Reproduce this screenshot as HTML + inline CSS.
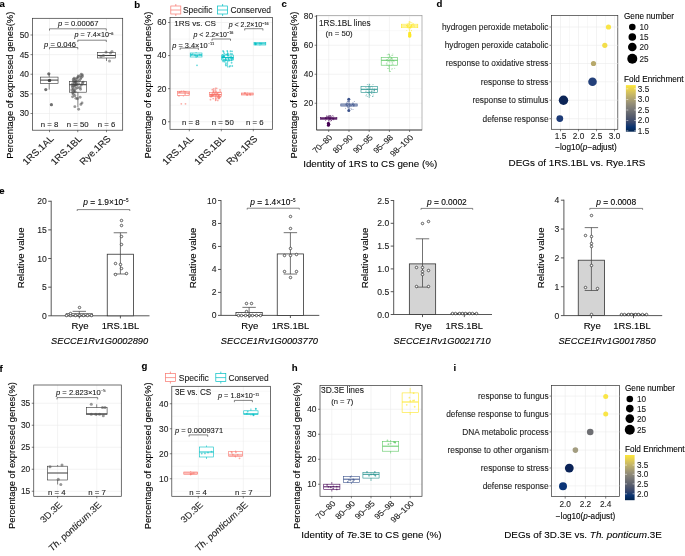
<!DOCTYPE html>
<html><head><meta charset="utf-8"><style>
html,body{margin:0;padding:0;background:#fff;}
svg{display:block;font-family:"Liberation Sans", sans-serif;will-change:transform;}
</style></head><body>
<svg width="685" height="556" viewBox="0 0 685 556">
<rect width="685" height="556" fill="#fff"/>
<text x="-0.5" y="7.2" font-size="9.6" text-anchor="start" fill="#000" stroke="#000" stroke-width="0.1" font-weight="bold">a</text>
<line x1="32.5" y1="35" x2="122.7" y2="35" stroke="#ebebeb" stroke-width="0.6"/>
<line x1="32.5" y1="54.62" x2="122.7" y2="54.62" stroke="#ebebeb" stroke-width="0.6"/>
<line x1="32.5" y1="74.25" x2="122.7" y2="74.25" stroke="#ebebeb" stroke-width="0.6"/>
<line x1="32.5" y1="93.88" x2="122.7" y2="93.88" stroke="#ebebeb" stroke-width="0.6"/>
<line x1="32.5" y1="113.5" x2="122.7" y2="113.5" stroke="#ebebeb" stroke-width="0.6"/>
<line x1="49.5" y1="18.3" x2="49.5" y2="130.2" stroke="#ebebeb" stroke-width="0.6"/>
<line x1="77.75" y1="18.3" x2="77.75" y2="130.2" stroke="#ebebeb" stroke-width="0.6"/>
<line x1="106.5" y1="18.3" x2="106.5" y2="130.2" stroke="#ebebeb" stroke-width="0.6"/>
<rect x="32.5" y="18.3" width="90.2" height="111.9" fill="none" stroke="#333333" stroke-width="0.7"/>
<line x1="30.5" y1="35" x2="32.5" y2="35" stroke="#333" stroke-width="0.6"/>
<text x="29" y="37.9" font-size="8.4" text-anchor="end" fill="#222" stroke="#222" stroke-width="0.1">50</text>
<line x1="30.5" y1="54.62" x2="32.5" y2="54.62" stroke="#333" stroke-width="0.6"/>
<text x="29" y="57.52" font-size="8.4" text-anchor="end" fill="#222" stroke="#222" stroke-width="0.1">45</text>
<line x1="30.5" y1="74.25" x2="32.5" y2="74.25" stroke="#333" stroke-width="0.6"/>
<text x="29" y="77.15" font-size="8.4" text-anchor="end" fill="#222" stroke="#222" stroke-width="0.1">40</text>
<line x1="30.5" y1="93.88" x2="32.5" y2="93.88" stroke="#333" stroke-width="0.6"/>
<text x="29" y="96.78" font-size="8.4" text-anchor="end" fill="#222" stroke="#222" stroke-width="0.1">35</text>
<line x1="30.5" y1="113.5" x2="32.5" y2="113.5" stroke="#333" stroke-width="0.6"/>
<text x="29" y="116.4" font-size="8.4" text-anchor="end" fill="#222" stroke="#222" stroke-width="0.1">30</text>
<line x1="49.5" y1="130.2" x2="49.5" y2="132.2" stroke="#333" stroke-width="0.6"/>
<line x1="77.75" y1="130.2" x2="77.75" y2="132.2" stroke="#333" stroke-width="0.6"/>
<line x1="106.5" y1="130.2" x2="106.5" y2="132.2" stroke="#333" stroke-width="0.6"/>
<text x="13" y="85.2" font-size="9.4" text-anchor="middle" fill="#000" stroke="#000" stroke-width="0.1" transform="rotate(-90 13 85.2)">Percentage of expressed genes(%)</text>
<line x1="49.2" y1="74.3" x2="49.2" y2="77.1" stroke="#333" stroke-width="0.6"/>
<line x1="49.2" y1="83.4" x2="49.2" y2="89.6" stroke="#333" stroke-width="0.6"/>
<rect x="40.35" y="77.1" width="17.7" height="6.3" fill="none" stroke="#333" stroke-width="0.6"/>
<line x1="40.35" y1="80.1" x2="58.05" y2="80.1" stroke="#333" stroke-width="0.96"/>
<line x1="77.9" y1="74.5" x2="77.9" y2="81.3" stroke="#333" stroke-width="0.6"/>
<line x1="77.9" y1="92.2" x2="77.9" y2="107.3" stroke="#333" stroke-width="0.6"/>
<rect x="69.35" y="81.3" width="17.1" height="10.9" fill="none" stroke="#333" stroke-width="0.6"/>
<line x1="69.35" y1="84.7" x2="86.45" y2="84.7" stroke="#333" stroke-width="0.96"/>
<line x1="106.5" y1="51.5" x2="106.5" y2="52.5" stroke="#333" stroke-width="0.6"/>
<line x1="106.5" y1="58" x2="106.5" y2="61" stroke="#333" stroke-width="0.6"/>
<rect x="97.5" y="52.5" width="18" height="5.5" fill="none" stroke="#333" stroke-width="0.6"/>
<line x1="97.5" y1="55.5" x2="115.5" y2="55.5" stroke="#333" stroke-width="0.96"/>
<circle cx="48.8" cy="73.8" r="1.6" fill="#333" stroke="none" stroke-width="0.5" fill-opacity="0.7"/>
<circle cx="49.7" cy="80.4" r="1.6" fill="#333" stroke="none" stroke-width="0.5" fill-opacity="0.7"/>
<circle cx="45.8" cy="89.6" r="1.6" fill="#333" stroke="none" stroke-width="0.5" fill-opacity="0.7"/>
<circle cx="51.4" cy="104.7" r="1.6" fill="#333" stroke="none" stroke-width="0.5" fill-opacity="0.7"/>
<circle cx="49.3" cy="80.6" r="1.6" fill="#333" stroke="none" stroke-width="0.5" fill-opacity="0.7"/>
<circle cx="81.25" cy="74.16" r="1.45" fill="#444" stroke="none" stroke-width="0.5" fill-opacity="0.55"/>
<circle cx="82.38" cy="74.91" r="1.45" fill="#444" stroke="none" stroke-width="0.5" fill-opacity="0.55"/>
<circle cx="79.74" cy="76.05" r="1.45" fill="#444" stroke="none" stroke-width="0.5" fill-opacity="0.55"/>
<circle cx="81.25" cy="77.56" r="1.45" fill="#444" stroke="none" stroke-width="0.5" fill-opacity="0.55"/>
<circle cx="78.23" cy="76.8" r="1.45" fill="#444" stroke="none" stroke-width="0.5" fill-opacity="0.55"/>
<circle cx="77.09" cy="77.94" r="1.45" fill="#444" stroke="none" stroke-width="0.5" fill-opacity="0.55"/>
<circle cx="74.07" cy="78.31" r="1.45" fill="#444" stroke="none" stroke-width="0.5" fill-opacity="0.55"/>
<circle cx="73.31" cy="79.45" r="1.45" fill="#444" stroke="none" stroke-width="0.5" fill-opacity="0.55"/>
<circle cx="75.58" cy="80.58" r="1.45" fill="#444" stroke="none" stroke-width="0.5" fill-opacity="0.55"/>
<circle cx="74.83" cy="82.09" r="1.45" fill="#444" stroke="none" stroke-width="0.5" fill-opacity="0.55"/>
<circle cx="76.34" cy="81.34" r="1.45" fill="#444" stroke="none" stroke-width="0.5" fill-opacity="0.55"/>
<circle cx="74.07" cy="82.85" r="1.45" fill="#444" stroke="none" stroke-width="0.5" fill-opacity="0.55"/>
<circle cx="72.56" cy="83.98" r="1.45" fill="#444" stroke="none" stroke-width="0.5" fill-opacity="0.55"/>
<circle cx="76.34" cy="83.98" r="1.45" fill="#444" stroke="none" stroke-width="0.5" fill-opacity="0.55"/>
<circle cx="78.61" cy="83.61" r="1.45" fill="#444" stroke="none" stroke-width="0.5" fill-opacity="0.55"/>
<circle cx="82.38" cy="83.23" r="1.45" fill="#444" stroke="none" stroke-width="0.5" fill-opacity="0.55"/>
<circle cx="74.07" cy="85.5" r="1.45" fill="#444" stroke="none" stroke-width="0.5" fill-opacity="0.55"/>
<circle cx="74.83" cy="86.25" r="1.45" fill="#444" stroke="none" stroke-width="0.5" fill-opacity="0.55"/>
<circle cx="72.56" cy="87.38" r="1.45" fill="#444" stroke="none" stroke-width="0.5" fill-opacity="0.55"/>
<circle cx="73.31" cy="88.9" r="1.45" fill="#444" stroke="none" stroke-width="0.5" fill-opacity="0.55"/>
<circle cx="75.96" cy="88.52" r="1.45" fill="#444" stroke="none" stroke-width="0.5" fill-opacity="0.55"/>
<circle cx="80.5" cy="89.27" r="1.45" fill="#444" stroke="none" stroke-width="0.5" fill-opacity="0.55"/>
<circle cx="74.45" cy="90.41" r="1.45" fill="#444" stroke="none" stroke-width="0.5" fill-opacity="0.55"/>
<circle cx="72.56" cy="92.68" r="1.45" fill="#444" stroke="none" stroke-width="0.5" fill-opacity="0.55"/>
<circle cx="73.31" cy="94.19" r="1.45" fill="#444" stroke="none" stroke-width="0.5" fill-opacity="0.55"/>
<circle cx="74.83" cy="95.7" r="1.45" fill="#444" stroke="none" stroke-width="0.5" fill-opacity="0.55"/>
<circle cx="72.56" cy="96.83" r="1.45" fill="#444" stroke="none" stroke-width="0.5" fill-opacity="0.55"/>
<circle cx="75.96" cy="98.34" r="1.45" fill="#444" stroke="none" stroke-width="0.5" fill-opacity="0.55"/>
<circle cx="80.12" cy="97.21" r="1.45" fill="#444" stroke="none" stroke-width="0.5" fill-opacity="0.55"/>
<circle cx="82.01" cy="102.88" r="1.45" fill="#444" stroke="none" stroke-width="0.5" fill-opacity="0.55"/>
<circle cx="80.87" cy="104.39" r="1.45" fill="#444" stroke="none" stroke-width="0.5" fill-opacity="0.55"/>
<circle cx="74.83" cy="106.66" r="1.45" fill="#444" stroke="none" stroke-width="0.5" fill-opacity="0.55"/>
<circle cx="78.61" cy="109.3" r="1.45" fill="#444" stroke="none" stroke-width="0.5" fill-opacity="0.55"/>
<circle cx="77.47" cy="98.72" r="1.45" fill="#444" stroke="none" stroke-width="0.5" fill-opacity="0.55"/>
<circle cx="75.2" cy="91.92" r="1.45" fill="#444" stroke="none" stroke-width="0.5" fill-opacity="0.55"/>
<circle cx="77.85" cy="87.76" r="1.45" fill="#444" stroke="none" stroke-width="0.5" fill-opacity="0.55"/>
<circle cx="82.38" cy="76.42" r="1.45" fill="#444" stroke="none" stroke-width="0.5" fill-opacity="0.55"/>
<circle cx="80.5" cy="79.07" r="1.45" fill="#444" stroke="none" stroke-width="0.5" fill-opacity="0.55"/>
<circle cx="83.14" cy="82.09" r="1.45" fill="#444" stroke="none" stroke-width="0.5" fill-opacity="0.55"/>
<circle cx="75.96" cy="82.47" r="1.45" fill="#444" stroke="none" stroke-width="0.5" fill-opacity="0.55"/>
<circle cx="77.09" cy="85.12" r="1.45" fill="#444" stroke="none" stroke-width="0.5" fill-opacity="0.55"/>
<circle cx="73.31" cy="80.96" r="1.45" fill="#444" stroke="none" stroke-width="0.5" fill-opacity="0.55"/>
<circle cx="79.36" cy="80.58" r="1.45" fill="#444" stroke="none" stroke-width="0.5" fill-opacity="0.55"/>
<circle cx="75.58" cy="84.74" r="1.45" fill="#444" stroke="none" stroke-width="0.5" fill-opacity="0.55"/>
<circle cx="72.18" cy="85.87" r="1.45" fill="#444" stroke="none" stroke-width="0.5" fill-opacity="0.55"/>
<circle cx="73.69" cy="91.16" r="1.45" fill="#444" stroke="none" stroke-width="0.5" fill-opacity="0.55"/>
<circle cx="71.8" cy="90.03" r="1.45" fill="#444" stroke="none" stroke-width="0.5" fill-opacity="0.55"/>
<circle cx="80.12" cy="87.38" r="1.45" fill="#444" stroke="none" stroke-width="0.5" fill-opacity="0.55"/>
<circle cx="81.25" cy="85.12" r="1.45" fill="#444" stroke="none" stroke-width="0.5" fill-opacity="0.55"/>
<circle cx="75.58" cy="79.07" r="1.45" fill="#444" stroke="none" stroke-width="0.5" fill-opacity="0.55"/>
<circle cx="106" cy="52" r="1.5" fill="#555" stroke="none" stroke-width="0.5" fill-opacity="0.55"/>
<circle cx="112" cy="51.5" r="1.5" fill="#555" stroke="none" stroke-width="0.5" fill-opacity="0.55"/>
<circle cx="101" cy="56.5" r="1.5" fill="#555" stroke="none" stroke-width="0.5" fill-opacity="0.55"/>
<circle cx="109.5" cy="61" r="1.5" fill="#555" stroke="none" stroke-width="0.5" fill-opacity="0.55"/>
<circle cx="110.5" cy="53" r="1.5" fill="#555" stroke="none" stroke-width="0.5" fill-opacity="0.55"/>
<circle cx="103.5" cy="55.5" r="1.5" fill="#555" stroke="none" stroke-width="0.5" fill-opacity="0.55"/>
<text x="49.5" y="126.8" font-size="7.8" text-anchor="middle" fill="#1a1a1a" stroke="#1a1a1a" stroke-width="0.1">n = 8</text>
<text x="77.75" y="126.8" font-size="7.8" text-anchor="middle" fill="#1a1a1a" stroke="#1a1a1a" stroke-width="0.1">n = 50</text>
<text x="106.5" y="126.8" font-size="7.8" text-anchor="middle" fill="#1a1a1a" stroke="#1a1a1a" stroke-width="0.1">n = 6</text>
<path d="M49.5 30.6V28.8H106.3V30.6" fill="none" stroke="#333" stroke-width="0.6"/>
<text x="58.1" y="26.1" font-size="7.6" text-anchor="start" fill="#1a1a1a" stroke="#1a1a1a" stroke-width="0.1"><tspan font-style="italic">p</tspan> = 0.00067</text>
<path d="M77.8 42V40.2H106.3V42" fill="none" stroke="#333" stroke-width="0.6"/>
<text x="74.5" y="37.4" font-size="7.2" text-anchor="start" fill="#1a1a1a" stroke="#1a1a1a" stroke-width="0.1"><tspan font-style="italic">p</tspan> = 7.4×10<tspan style="font-size:54%" dy="-0.72em">−6</tspan></text>
<path d="M49.5 49.3V47.5H77.8V49.3" fill="none" stroke="#333" stroke-width="0.6"/>
<text x="44.1" y="46.8" font-size="7.6" text-anchor="start" fill="#1a1a1a" stroke="#1a1a1a" stroke-width="0.1"><tspan font-style="italic">p</tspan> = 0.046</text>
<text x="0" y="0" font-size="9.17" text-anchor="end" fill="#222" stroke="#222" stroke-width="0.1" transform="translate(49.4 134.8) scale(1.08 1) rotate(-45) translate(0 6.6)">1RS.1AL</text>
<text x="0" y="0" font-size="9.17" text-anchor="end" fill="#222" stroke="#222" stroke-width="0.1" transform="translate(77.65 134.8) scale(1.08 1) rotate(-45) translate(0 6.6)">1RS.1BL</text>
<text x="0" y="0" font-size="9.17" text-anchor="end" fill="#222" stroke="#222" stroke-width="0.1" transform="translate(106.4 134.8) scale(1.08 1) rotate(-45) translate(0 6.6)">Rye.1RS</text>
<text x="134.2" y="7.5" font-size="9.6" text-anchor="start" fill="#000" stroke="#000" stroke-width="0.1" font-weight="bold">b</text>
<line x1="170" y1="105.21" x2="272.5" y2="105.21" stroke="#f0f0f0" stroke-width="0.45"/>
<line x1="170" y1="72.13" x2="272.5" y2="72.13" stroke="#f0f0f0" stroke-width="0.45"/>
<line x1="170" y1="39.05" x2="272.5" y2="39.05" stroke="#f0f0f0" stroke-width="0.45"/>
<line x1="170" y1="22.51" x2="272.5" y2="22.51" stroke="#ebebeb" stroke-width="0.6"/>
<line x1="170" y1="55.59" x2="272.5" y2="55.59" stroke="#ebebeb" stroke-width="0.6"/>
<line x1="170" y1="88.67" x2="272.5" y2="88.67" stroke="#ebebeb" stroke-width="0.6"/>
<line x1="170" y1="121.75" x2="272.5" y2="121.75" stroke="#ebebeb" stroke-width="0.6"/>
<line x1="189.3" y1="17.5" x2="189.3" y2="129.3" stroke="#ebebeb" stroke-width="0.6"/>
<line x1="221.3" y1="17.5" x2="221.3" y2="129.3" stroke="#ebebeb" stroke-width="0.6"/>
<line x1="253.3" y1="17.5" x2="253.3" y2="129.3" stroke="#ebebeb" stroke-width="0.6"/>
<rect x="170" y="17.5" width="102.5" height="111.8" fill="none" stroke="#333333" stroke-width="0.7"/>
<line x1="168" y1="22.51" x2="170" y2="22.51" stroke="#333" stroke-width="0.6"/>
<text x="166.5" y="25.41" font-size="8.4" text-anchor="end" fill="#222" stroke="#222" stroke-width="0.1">60</text>
<line x1="168" y1="55.59" x2="170" y2="55.59" stroke="#333" stroke-width="0.6"/>
<text x="166.5" y="58.49" font-size="8.4" text-anchor="end" fill="#222" stroke="#222" stroke-width="0.1">40</text>
<line x1="168" y1="88.67" x2="170" y2="88.67" stroke="#333" stroke-width="0.6"/>
<text x="166.5" y="91.57" font-size="8.4" text-anchor="end" fill="#222" stroke="#222" stroke-width="0.1">20</text>
<line x1="168" y1="121.75" x2="170" y2="121.75" stroke="#333" stroke-width="0.6"/>
<text x="166.5" y="124.65" font-size="8.4" text-anchor="end" fill="#222" stroke="#222" stroke-width="0.1">0</text>
<line x1="189.3" y1="129.3" x2="189.3" y2="131.3" stroke="#333" stroke-width="0.6"/>
<line x1="221.3" y1="129.3" x2="221.3" y2="131.3" stroke="#333" stroke-width="0.6"/>
<line x1="253.3" y1="129.3" x2="253.3" y2="131.3" stroke="#333" stroke-width="0.6"/>
<text x="151" y="85" font-size="9.4" text-anchor="middle" fill="#000" stroke="#000" stroke-width="0.1" transform="rotate(-90 151 85)">Percentage of expressed genes(%)</text>
<rect x="170.8" y="6" width="10" height="8" fill="none" stroke="#F8766D" stroke-width="0.7"/>
<line x1="170.8" y1="10" x2="180.8" y2="10" stroke="#F8766D" stroke-width="0.7"/>
<line x1="175.8" y1="4" x2="175.8" y2="6" stroke="#F8766D" stroke-width="0.7"/>
<line x1="175.8" y1="14" x2="175.8" y2="16" stroke="#F8766D" stroke-width="0.7"/>
<text x="183" y="12.9" font-size="8.4" text-anchor="start" fill="#1a1a1a" stroke="#1a1a1a" stroke-width="0.1">Specific</text>
<rect x="217.6" y="6" width="10" height="8" fill="none" stroke="#00BFC4" stroke-width="0.7"/>
<line x1="217.6" y1="10" x2="227.6" y2="10" stroke="#00BFC4" stroke-width="0.7"/>
<line x1="222.6" y1="4" x2="222.6" y2="6" stroke="#00BFC4" stroke-width="0.7"/>
<line x1="222.6" y1="14" x2="222.6" y2="16" stroke="#00BFC4" stroke-width="0.7"/>
<text x="230.5" y="12.9" font-size="8.4" text-anchor="start" fill="#1a1a1a" stroke="#1a1a1a" stroke-width="0.1">Conserved</text>
<text x="174.2" y="25.9" font-size="8.1" text-anchor="start" fill="#1a1a1a" stroke="#1a1a1a" stroke-width="0.1">1RS vs. CS</text>
<line x1="183.4" y1="90.5" x2="183.4" y2="91.25" stroke="#F8766D" stroke-width="0.6"/>
<line x1="183.4" y1="95.5" x2="183.4" y2="96.5" stroke="#F8766D" stroke-width="0.6"/>
<rect x="177.5" y="91.25" width="11.8" height="4.25" fill="none" stroke="#F8766D" stroke-width="0.6"/>
<line x1="177.5" y1="93" x2="189.3" y2="93" stroke="#F8766D" stroke-width="0.96"/>
<circle cx="178.97" cy="95.81" r="0.9" fill="#F8766D" stroke="none" stroke-width="0.5" fill-opacity="0.6"/>
<circle cx="179.25" cy="92.2" r="0.9" fill="#F8766D" stroke="none" stroke-width="0.5" fill-opacity="0.6"/>
<circle cx="185.1" cy="94" r="0.9" fill="#F8766D" stroke="none" stroke-width="0.5" fill-opacity="0.6"/>
<circle cx="181.48" cy="91.32" r="0.9" fill="#F8766D" stroke="none" stroke-width="0.5" fill-opacity="0.6"/>
<circle cx="184.21" cy="91.71" r="0.9" fill="#F8766D" stroke="none" stroke-width="0.5" fill-opacity="0.6"/>
<circle cx="179.98" cy="91.99" r="0.9" fill="#F8766D" stroke="none" stroke-width="0.5" fill-opacity="0.6"/>
<circle cx="185.63" cy="91.91" r="0.9" fill="#F8766D" stroke="none" stroke-width="0.5" fill-opacity="0.6"/>
<circle cx="188.35" cy="93.51" r="0.9" fill="#F8766D" stroke="none" stroke-width="0.5" fill-opacity="0.6"/>
<circle cx="181.3" cy="103.8" r="0.9" fill="#F8766D" stroke="none" stroke-width="0.5" fill-opacity="0.6"/>
<circle cx="185.5" cy="103.8" r="0.9" fill="#F8766D" stroke="none" stroke-width="0.5" fill-opacity="0.6"/>
<line x1="196.1" y1="52" x2="196.1" y2="53" stroke="#00BFC4" stroke-width="0.6"/>
<line x1="196.1" y1="57" x2="196.1" y2="58" stroke="#00BFC4" stroke-width="0.6"/>
<rect x="190.2" y="53" width="11.8" height="4" fill="none" stroke="#00BFC4" stroke-width="0.6"/>
<line x1="190.2" y1="55" x2="202" y2="55" stroke="#00BFC4" stroke-width="0.96"/>
<circle cx="194.8" cy="55.09" r="0.9" fill="#00BFC4" stroke="none" stroke-width="0.5" fill-opacity="0.6"/>
<circle cx="197.14" cy="56.25" r="0.9" fill="#00BFC4" stroke="none" stroke-width="0.5" fill-opacity="0.6"/>
<circle cx="191.23" cy="54.74" r="0.9" fill="#00BFC4" stroke="none" stroke-width="0.5" fill-opacity="0.6"/>
<circle cx="199.47" cy="54.74" r="0.9" fill="#00BFC4" stroke="none" stroke-width="0.5" fill-opacity="0.6"/>
<circle cx="201.06" cy="54.96" r="0.9" fill="#00BFC4" stroke="none" stroke-width="0.5" fill-opacity="0.6"/>
<circle cx="195.8" cy="55.73" r="0.9" fill="#00BFC4" stroke="none" stroke-width="0.5" fill-opacity="0.6"/>
<circle cx="197.49" cy="55.59" r="0.9" fill="#00BFC4" stroke="none" stroke-width="0.5" fill-opacity="0.6"/>
<circle cx="192.61" cy="54.03" r="0.9" fill="#00BFC4" stroke="none" stroke-width="0.5" fill-opacity="0.6"/>
<circle cx="197" cy="65.3" r="0.9" fill="#00BFC4" stroke="none" stroke-width="0.5" fill-opacity="0.6"/>
<line x1="215.4" y1="87.5" x2="215.4" y2="92.5" stroke="#F8766D" stroke-width="0.6"/>
<line x1="215.4" y1="96.3" x2="215.4" y2="101.2" stroke="#F8766D" stroke-width="0.6"/>
<rect x="209.5" y="92.5" width="11.8" height="3.8" fill="none" stroke="#F8766D" stroke-width="0.6"/>
<line x1="209.5" y1="94.5" x2="221.3" y2="94.5" stroke="#F8766D" stroke-width="0.96"/>
<circle cx="214.36" cy="94.62" r="0.9" fill="#F8766D" stroke="none" stroke-width="0.5" fill-opacity="0.6"/>
<circle cx="211.95" cy="95.89" r="0.9" fill="#F8766D" stroke="none" stroke-width="0.5" fill-opacity="0.6"/>
<circle cx="219.58" cy="97.28" r="0.9" fill="#F8766D" stroke="none" stroke-width="0.5" fill-opacity="0.6"/>
<circle cx="218.4" cy="95.73" r="0.9" fill="#F8766D" stroke="none" stroke-width="0.5" fill-opacity="0.6"/>
<circle cx="215.77" cy="94.7" r="0.9" fill="#F8766D" stroke="none" stroke-width="0.5" fill-opacity="0.6"/>
<circle cx="213.17" cy="92.38" r="0.9" fill="#F8766D" stroke="none" stroke-width="0.5" fill-opacity="0.6"/>
<circle cx="212.54" cy="95.16" r="0.9" fill="#F8766D" stroke="none" stroke-width="0.5" fill-opacity="0.6"/>
<circle cx="219.67" cy="95.76" r="0.9" fill="#F8766D" stroke="none" stroke-width="0.5" fill-opacity="0.6"/>
<circle cx="218.4" cy="97.09" r="0.9" fill="#F8766D" stroke="none" stroke-width="0.5" fill-opacity="0.6"/>
<circle cx="212.33" cy="89.72" r="0.9" fill="#F8766D" stroke="none" stroke-width="0.5" fill-opacity="0.6"/>
<circle cx="217.72" cy="92.95" r="0.9" fill="#F8766D" stroke="none" stroke-width="0.5" fill-opacity="0.6"/>
<circle cx="218.95" cy="98.42" r="0.9" fill="#F8766D" stroke="none" stroke-width="0.5" fill-opacity="0.6"/>
<circle cx="216.46" cy="95.43" r="0.9" fill="#F8766D" stroke="none" stroke-width="0.5" fill-opacity="0.6"/>
<circle cx="217.12" cy="93.63" r="0.9" fill="#F8766D" stroke="none" stroke-width="0.5" fill-opacity="0.6"/>
<circle cx="215.14" cy="92.62" r="0.9" fill="#F8766D" stroke="none" stroke-width="0.5" fill-opacity="0.6"/>
<circle cx="211.29" cy="94.43" r="0.9" fill="#F8766D" stroke="none" stroke-width="0.5" fill-opacity="0.6"/>
<circle cx="215.88" cy="100.01" r="0.9" fill="#F8766D" stroke="none" stroke-width="0.5" fill-opacity="0.6"/>
<circle cx="213.4" cy="92.1" r="0.9" fill="#F8766D" stroke="none" stroke-width="0.5" fill-opacity="0.6"/>
<circle cx="219.22" cy="97.79" r="0.9" fill="#F8766D" stroke="none" stroke-width="0.5" fill-opacity="0.6"/>
<circle cx="218.88" cy="92.38" r="0.9" fill="#F8766D" stroke="none" stroke-width="0.5" fill-opacity="0.6"/>
<circle cx="216.39" cy="91.4" r="0.9" fill="#F8766D" stroke="none" stroke-width="0.5" fill-opacity="0.6"/>
<circle cx="214.71" cy="94.34" r="0.9" fill="#F8766D" stroke="none" stroke-width="0.5" fill-opacity="0.6"/>
<circle cx="218.53" cy="95.85" r="0.9" fill="#F8766D" stroke="none" stroke-width="0.5" fill-opacity="0.6"/>
<circle cx="210.83" cy="96.67" r="0.9" fill="#F8766D" stroke="none" stroke-width="0.5" fill-opacity="0.6"/>
<circle cx="213.2" cy="98.53" r="0.9" fill="#F8766D" stroke="none" stroke-width="0.5" fill-opacity="0.6"/>
<circle cx="215.75" cy="95.71" r="0.9" fill="#F8766D" stroke="none" stroke-width="0.5" fill-opacity="0.6"/>
<circle cx="220.37" cy="91.8" r="0.9" fill="#F8766D" stroke="none" stroke-width="0.5" fill-opacity="0.6"/>
<circle cx="212.36" cy="94.99" r="0.9" fill="#F8766D" stroke="none" stroke-width="0.5" fill-opacity="0.6"/>
<circle cx="216.73" cy="92.78" r="0.9" fill="#F8766D" stroke="none" stroke-width="0.5" fill-opacity="0.6"/>
<circle cx="213.16" cy="95.55" r="0.9" fill="#F8766D" stroke="none" stroke-width="0.5" fill-opacity="0.6"/>
<circle cx="213.61" cy="91.43" r="0.9" fill="#F8766D" stroke="none" stroke-width="0.5" fill-opacity="0.6"/>
<circle cx="215.99" cy="98.41" r="0.9" fill="#F8766D" stroke="none" stroke-width="0.5" fill-opacity="0.6"/>
<circle cx="211.02" cy="95.64" r="0.9" fill="#F8766D" stroke="none" stroke-width="0.5" fill-opacity="0.6"/>
<circle cx="212.69" cy="93.72" r="0.9" fill="#F8766D" stroke="none" stroke-width="0.5" fill-opacity="0.6"/>
<circle cx="212.77" cy="94.89" r="0.9" fill="#F8766D" stroke="none" stroke-width="0.5" fill-opacity="0.6"/>
<circle cx="213.71" cy="90.37" r="0.9" fill="#F8766D" stroke="none" stroke-width="0.5" fill-opacity="0.6"/>
<circle cx="210.83" cy="95.96" r="0.9" fill="#F8766D" stroke="none" stroke-width="0.5" fill-opacity="0.6"/>
<circle cx="217.37" cy="97.49" r="0.9" fill="#F8766D" stroke="none" stroke-width="0.5" fill-opacity="0.6"/>
<circle cx="217.75" cy="100.42" r="0.9" fill="#F8766D" stroke="none" stroke-width="0.5" fill-opacity="0.6"/>
<circle cx="220" cy="89.96" r="0.9" fill="#F8766D" stroke="none" stroke-width="0.5" fill-opacity="0.6"/>
<circle cx="220.06" cy="96.96" r="0.9" fill="#F8766D" stroke="none" stroke-width="0.5" fill-opacity="0.6"/>
<circle cx="218.15" cy="94.78" r="0.9" fill="#F8766D" stroke="none" stroke-width="0.5" fill-opacity="0.6"/>
<circle cx="216.61" cy="88.42" r="0.9" fill="#F8766D" stroke="none" stroke-width="0.5" fill-opacity="0.6"/>
<circle cx="218.58" cy="98.34" r="0.9" fill="#F8766D" stroke="none" stroke-width="0.5" fill-opacity="0.6"/>
<circle cx="214.84" cy="93.97" r="0.9" fill="#F8766D" stroke="none" stroke-width="0.5" fill-opacity="0.6"/>
<circle cx="211.76" cy="96.38" r="0.9" fill="#F8766D" stroke="none" stroke-width="0.5" fill-opacity="0.6"/>
<circle cx="213.71" cy="88.86" r="0.9" fill="#F8766D" stroke="none" stroke-width="0.5" fill-opacity="0.6"/>
<circle cx="210.49" cy="99.69" r="0.9" fill="#F8766D" stroke="none" stroke-width="0.5" fill-opacity="0.6"/>
<circle cx="218.24" cy="96.26" r="0.9" fill="#F8766D" stroke="none" stroke-width="0.5" fill-opacity="0.6"/>
<circle cx="214.03" cy="95.01" r="0.9" fill="#F8766D" stroke="none" stroke-width="0.5" fill-opacity="0.6"/>
<line x1="227.6" y1="51.2" x2="227.6" y2="55" stroke="#00BFC4" stroke-width="0.6"/>
<line x1="227.6" y1="60" x2="227.6" y2="67.5" stroke="#00BFC4" stroke-width="0.6"/>
<rect x="221.7" y="55" width="11.8" height="5" fill="none" stroke="#00BFC4" stroke-width="0.6"/>
<line x1="221.7" y1="57.5" x2="233.5" y2="57.5" stroke="#00BFC4" stroke-width="0.96"/>
<circle cx="230.55" cy="53.87" r="0.9" fill="#00BFC4" stroke="none" stroke-width="0.5" fill-opacity="0.6"/>
<circle cx="232.02" cy="53.98" r="0.9" fill="#00BFC4" stroke="none" stroke-width="0.5" fill-opacity="0.6"/>
<circle cx="222.89" cy="57.5" r="0.9" fill="#00BFC4" stroke="none" stroke-width="0.5" fill-opacity="0.6"/>
<circle cx="227.26" cy="51" r="0.9" fill="#00BFC4" stroke="none" stroke-width="0.5" fill-opacity="0.6"/>
<circle cx="231.61" cy="62.75" r="0.9" fill="#00BFC4" stroke="none" stroke-width="0.5" fill-opacity="0.6"/>
<circle cx="223.73" cy="56.24" r="0.9" fill="#00BFC4" stroke="none" stroke-width="0.5" fill-opacity="0.6"/>
<circle cx="228.04" cy="55.42" r="0.9" fill="#00BFC4" stroke="none" stroke-width="0.5" fill-opacity="0.6"/>
<circle cx="228.34" cy="58.51" r="0.9" fill="#00BFC4" stroke="none" stroke-width="0.5" fill-opacity="0.6"/>
<circle cx="225.39" cy="60.44" r="0.9" fill="#00BFC4" stroke="none" stroke-width="0.5" fill-opacity="0.6"/>
<circle cx="231.76" cy="58.2" r="0.9" fill="#00BFC4" stroke="none" stroke-width="0.5" fill-opacity="0.6"/>
<circle cx="230.57" cy="58.2" r="0.9" fill="#00BFC4" stroke="none" stroke-width="0.5" fill-opacity="0.6"/>
<circle cx="223.99" cy="55.95" r="0.9" fill="#00BFC4" stroke="none" stroke-width="0.5" fill-opacity="0.6"/>
<circle cx="222.62" cy="56.65" r="0.9" fill="#00BFC4" stroke="none" stroke-width="0.5" fill-opacity="0.6"/>
<circle cx="231.31" cy="56.77" r="0.9" fill="#00BFC4" stroke="none" stroke-width="0.5" fill-opacity="0.6"/>
<circle cx="232.42" cy="58.61" r="0.9" fill="#00BFC4" stroke="none" stroke-width="0.5" fill-opacity="0.6"/>
<circle cx="231.32" cy="60.36" r="0.9" fill="#00BFC4" stroke="none" stroke-width="0.5" fill-opacity="0.6"/>
<circle cx="227.99" cy="55.82" r="0.9" fill="#00BFC4" stroke="none" stroke-width="0.5" fill-opacity="0.6"/>
<circle cx="229.38" cy="66.66" r="0.9" fill="#00BFC4" stroke="none" stroke-width="0.5" fill-opacity="0.6"/>
<circle cx="229.51" cy="60.33" r="0.9" fill="#00BFC4" stroke="none" stroke-width="0.5" fill-opacity="0.6"/>
<circle cx="232.27" cy="65.99" r="0.9" fill="#00BFC4" stroke="none" stroke-width="0.5" fill-opacity="0.6"/>
<circle cx="226.21" cy="60.32" r="0.9" fill="#00BFC4" stroke="none" stroke-width="0.5" fill-opacity="0.6"/>
<circle cx="224.26" cy="56.17" r="0.9" fill="#00BFC4" stroke="none" stroke-width="0.5" fill-opacity="0.6"/>
<circle cx="225.61" cy="58.78" r="0.9" fill="#00BFC4" stroke="none" stroke-width="0.5" fill-opacity="0.6"/>
<circle cx="228.63" cy="59.02" r="0.9" fill="#00BFC4" stroke="none" stroke-width="0.5" fill-opacity="0.6"/>
<circle cx="225.98" cy="63.27" r="0.9" fill="#00BFC4" stroke="none" stroke-width="0.5" fill-opacity="0.6"/>
<circle cx="225.7" cy="58.11" r="0.9" fill="#00BFC4" stroke="none" stroke-width="0.5" fill-opacity="0.6"/>
<circle cx="225.76" cy="59.67" r="0.9" fill="#00BFC4" stroke="none" stroke-width="0.5" fill-opacity="0.6"/>
<circle cx="227.41" cy="54.36" r="0.9" fill="#00BFC4" stroke="none" stroke-width="0.5" fill-opacity="0.6"/>
<circle cx="232.35" cy="57.66" r="0.9" fill="#00BFC4" stroke="none" stroke-width="0.5" fill-opacity="0.6"/>
<circle cx="222.83" cy="56.85" r="0.9" fill="#00BFC4" stroke="none" stroke-width="0.5" fill-opacity="0.6"/>
<circle cx="222.78" cy="57.99" r="0.9" fill="#00BFC4" stroke="none" stroke-width="0.5" fill-opacity="0.6"/>
<circle cx="230.48" cy="51.24" r="0.9" fill="#00BFC4" stroke="none" stroke-width="0.5" fill-opacity="0.6"/>
<circle cx="222.69" cy="54.93" r="0.9" fill="#00BFC4" stroke="none" stroke-width="0.5" fill-opacity="0.6"/>
<circle cx="223.07" cy="61.43" r="0.9" fill="#00BFC4" stroke="none" stroke-width="0.5" fill-opacity="0.6"/>
<circle cx="224.57" cy="61.67" r="0.9" fill="#00BFC4" stroke="none" stroke-width="0.5" fill-opacity="0.6"/>
<circle cx="230.16" cy="65.91" r="0.9" fill="#00BFC4" stroke="none" stroke-width="0.5" fill-opacity="0.6"/>
<circle cx="226.04" cy="65.55" r="0.9" fill="#00BFC4" stroke="none" stroke-width="0.5" fill-opacity="0.6"/>
<circle cx="226.15" cy="54.43" r="0.9" fill="#00BFC4" stroke="none" stroke-width="0.5" fill-opacity="0.6"/>
<circle cx="223.68" cy="52.02" r="0.9" fill="#00BFC4" stroke="none" stroke-width="0.5" fill-opacity="0.6"/>
<circle cx="230.08" cy="57.06" r="0.9" fill="#00BFC4" stroke="none" stroke-width="0.5" fill-opacity="0.6"/>
<circle cx="222.97" cy="60.03" r="0.9" fill="#00BFC4" stroke="none" stroke-width="0.5" fill-opacity="0.6"/>
<circle cx="232.06" cy="51.37" r="0.9" fill="#00BFC4" stroke="none" stroke-width="0.5" fill-opacity="0.6"/>
<circle cx="228.71" cy="60.68" r="0.9" fill="#00BFC4" stroke="none" stroke-width="0.5" fill-opacity="0.6"/>
<circle cx="231.78" cy="59.73" r="0.9" fill="#00BFC4" stroke="none" stroke-width="0.5" fill-opacity="0.6"/>
<circle cx="228.05" cy="53.74" r="0.9" fill="#00BFC4" stroke="none" stroke-width="0.5" fill-opacity="0.6"/>
<circle cx="225.72" cy="64.71" r="0.9" fill="#00BFC4" stroke="none" stroke-width="0.5" fill-opacity="0.6"/>
<circle cx="223.38" cy="57.11" r="0.9" fill="#00BFC4" stroke="none" stroke-width="0.5" fill-opacity="0.6"/>
<circle cx="224.09" cy="60" r="0.9" fill="#00BFC4" stroke="none" stroke-width="0.5" fill-opacity="0.6"/>
<circle cx="224.22" cy="53.58" r="0.9" fill="#00BFC4" stroke="none" stroke-width="0.5" fill-opacity="0.6"/>
<circle cx="223.09" cy="51" r="0.9" fill="#00BFC4" stroke="none" stroke-width="0.5" fill-opacity="0.6"/>
<line x1="247.3" y1="92.5" x2="247.3" y2="93" stroke="#F8766D" stroke-width="0.6"/>
<line x1="247.3" y1="95" x2="247.3" y2="95.5" stroke="#F8766D" stroke-width="0.6"/>
<rect x="241.4" y="93" width="11.8" height="2" fill="none" stroke="#F8766D" stroke-width="0.6"/>
<line x1="241.4" y1="94" x2="253.2" y2="94" stroke="#F8766D" stroke-width="0.96"/>
<circle cx="247.15" cy="94.3" r="0.9" fill="#F8766D" stroke="none" stroke-width="0.5" fill-opacity="0.6"/>
<circle cx="244.92" cy="92.93" r="0.9" fill="#F8766D" stroke="none" stroke-width="0.5" fill-opacity="0.6"/>
<circle cx="247" cy="94.88" r="0.9" fill="#F8766D" stroke="none" stroke-width="0.5" fill-opacity="0.6"/>
<circle cx="249.9" cy="94" r="0.9" fill="#F8766D" stroke="none" stroke-width="0.5" fill-opacity="0.6"/>
<circle cx="245.03" cy="93.28" r="0.9" fill="#F8766D" stroke="none" stroke-width="0.5" fill-opacity="0.6"/>
<circle cx="250.32" cy="94.74" r="0.9" fill="#F8766D" stroke="none" stroke-width="0.5" fill-opacity="0.6"/>
<line x1="259.9" y1="42" x2="259.9" y2="42.5" stroke="#00BFC4" stroke-width="0.6"/>
<line x1="259.9" y1="45" x2="259.9" y2="45.5" stroke="#00BFC4" stroke-width="0.6"/>
<rect x="254" y="42.5" width="11.8" height="2.5" fill="none" stroke="#00BFC4" stroke-width="0.6"/>
<line x1="254" y1="43.8" x2="265.8" y2="43.8" stroke="#00BFC4" stroke-width="0.96"/>
<circle cx="261.41" cy="43.65" r="0.9" fill="#00BFC4" stroke="none" stroke-width="0.5" fill-opacity="0.6"/>
<circle cx="255.62" cy="44.11" r="0.9" fill="#00BFC4" stroke="none" stroke-width="0.5" fill-opacity="0.6"/>
<circle cx="255.48" cy="43.24" r="0.9" fill="#00BFC4" stroke="none" stroke-width="0.5" fill-opacity="0.6"/>
<circle cx="259.97" cy="43.67" r="0.9" fill="#00BFC4" stroke="none" stroke-width="0.5" fill-opacity="0.6"/>
<circle cx="255.6" cy="44.42" r="0.9" fill="#00BFC4" stroke="none" stroke-width="0.5" fill-opacity="0.6"/>
<circle cx="255.81" cy="43.95" r="0.9" fill="#00BFC4" stroke="none" stroke-width="0.5" fill-opacity="0.6"/>
<text x="190.8" y="125.4" font-size="7.8" text-anchor="middle" fill="#1a1a1a" stroke="#1a1a1a" stroke-width="0.1">n = 8</text>
<text x="222.8" y="125.4" font-size="7.8" text-anchor="middle" fill="#1a1a1a" stroke="#1a1a1a" stroke-width="0.1">n = 50</text>
<text x="254.8" y="125.4" font-size="7.8" text-anchor="middle" fill="#1a1a1a" stroke="#1a1a1a" stroke-width="0.1">n = 6</text>
<path d="M180.1 49.9V48.1H198.4V49.9" fill="none" stroke="#333" stroke-width="0.6"/>
<text x="172.3" y="47.6" font-size="7.4" text-anchor="start" fill="#1a1a1a" stroke="#1a1a1a" stroke-width="0.1"><tspan font-style="italic">p</tspan> = 3.4×10<tspan style="font-size:54%" dy="-0.72em">−11</tspan></text>
<path d="M212 40.8V39H230.5V40.8" fill="none" stroke="#333" stroke-width="0.6"/>
<text x="193.5" y="37" font-size="7.0" text-anchor="start" fill="#1a1a1a" stroke="#1a1a1a" stroke-width="0.1"><tspan font-style="italic">p</tspan> &lt; 2.2×10<tspan style="font-size:54%" dy="-0.72em">−16</tspan></text>
<path d="M244.7 30.5V28.7H262.9V30.5" fill="none" stroke="#333" stroke-width="0.6"/>
<text x="228.7" y="27.4" font-size="7.0" text-anchor="start" fill="#1a1a1a" stroke="#1a1a1a" stroke-width="0.1"><tspan font-style="italic">p</tspan> &lt; 2.2×10<tspan style="font-size:54%" dy="-0.72em">−16</tspan></text>
<text x="0" y="0" font-size="9.17" text-anchor="end" fill="#222" stroke="#222" stroke-width="0.1" transform="translate(189.2 134.8) scale(1.08 1) rotate(-45) translate(0 6.6)">1RS.1AL</text>
<text x="0" y="0" font-size="9.17" text-anchor="end" fill="#222" stroke="#222" stroke-width="0.1" transform="translate(221.2 134.8) scale(1.08 1) rotate(-45) translate(0 6.6)">1RS.1BL</text>
<text x="0" y="0" font-size="9.17" text-anchor="end" fill="#222" stroke="#222" stroke-width="0.1" transform="translate(253.2 134.8) scale(1.08 1) rotate(-45) translate(0 6.6)">Rye.1RS</text>
<text x="281.4" y="7.3" font-size="9.6" text-anchor="start" fill="#000" stroke="#000" stroke-width="0.1" font-weight="bold">c</text>
<line x1="316.6" y1="117.75" x2="422" y2="117.75" stroke="#f0f0f0" stroke-width="0.45"/>
<line x1="316.6" y1="88.75" x2="422" y2="88.75" stroke="#f0f0f0" stroke-width="0.45"/>
<line x1="316.6" y1="59.75" x2="422" y2="59.75" stroke="#f0f0f0" stroke-width="0.45"/>
<line x1="316.6" y1="30.75" x2="422" y2="30.75" stroke="#f0f0f0" stroke-width="0.45"/>
<line x1="316.6" y1="16.25" x2="422" y2="16.25" stroke="#ebebeb" stroke-width="0.6"/>
<line x1="316.6" y1="45.25" x2="422" y2="45.25" stroke="#ebebeb" stroke-width="0.6"/>
<line x1="316.6" y1="74.25" x2="422" y2="74.25" stroke="#ebebeb" stroke-width="0.6"/>
<line x1="316.6" y1="103.25" x2="422" y2="103.25" stroke="#ebebeb" stroke-width="0.6"/>
<line x1="328.7" y1="15.4" x2="328.7" y2="130" stroke="#ebebeb" stroke-width="0.6"/>
<line x1="349" y1="15.4" x2="349" y2="130" stroke="#ebebeb" stroke-width="0.6"/>
<line x1="369.2" y1="15.4" x2="369.2" y2="130" stroke="#ebebeb" stroke-width="0.6"/>
<line x1="389.4" y1="15.4" x2="389.4" y2="130" stroke="#ebebeb" stroke-width="0.6"/>
<line x1="409.6" y1="15.4" x2="409.6" y2="130" stroke="#ebebeb" stroke-width="0.6"/>
<rect x="316.6" y="15.4" width="105.4" height="114.6" fill="none" stroke="#999" stroke-width="0.7"/>
<line x1="314.6" y1="16.25" x2="316.6" y2="16.25" stroke="#333" stroke-width="0.6"/>
<text x="313.1" y="19.15" font-size="8.4" text-anchor="end" fill="#222" stroke="#222" stroke-width="0.1">80</text>
<line x1="314.6" y1="45.25" x2="316.6" y2="45.25" stroke="#333" stroke-width="0.6"/>
<text x="313.1" y="48.15" font-size="8.4" text-anchor="end" fill="#222" stroke="#222" stroke-width="0.1">60</text>
<line x1="314.6" y1="74.25" x2="316.6" y2="74.25" stroke="#333" stroke-width="0.6"/>
<text x="313.1" y="77.15" font-size="8.4" text-anchor="end" fill="#222" stroke="#222" stroke-width="0.1">40</text>
<line x1="314.6" y1="103.25" x2="316.6" y2="103.25" stroke="#333" stroke-width="0.6"/>
<text x="313.1" y="106.15" font-size="8.4" text-anchor="end" fill="#222" stroke="#222" stroke-width="0.1">20</text>
<line x1="328.7" y1="130" x2="328.7" y2="132" stroke="#333" stroke-width="0.6"/>
<line x1="349" y1="130" x2="349" y2="132" stroke="#333" stroke-width="0.6"/>
<line x1="369.2" y1="130" x2="369.2" y2="132" stroke="#333" stroke-width="0.6"/>
<line x1="389.4" y1="130" x2="389.4" y2="132" stroke="#333" stroke-width="0.6"/>
<line x1="409.6" y1="130" x2="409.6" y2="132" stroke="#333" stroke-width="0.6"/>
<line x1="316.6" y1="15.4" x2="316.6" y2="130" stroke="#333" stroke-width="0.8"/>
<line x1="316.6" y1="130" x2="422" y2="130" stroke="#333" stroke-width="0.8"/>
<text x="296.6" y="85" font-size="9.4" text-anchor="middle" fill="#000" stroke="#000" stroke-width="0.1" transform="rotate(-90 296.6 85)">Percentage of expressed genes(%)</text>
<text x="319" y="25.5" font-size="8.2" text-anchor="start" fill="#1a1a1a" stroke="#1a1a1a" stroke-width="0.1">1RS.1BL lines</text>
<text x="325.6" y="35.8" font-size="7.8" text-anchor="start" fill="#1a1a1a" stroke="#1a1a1a" stroke-width="0.1">(n = 50)</text>
<circle cx="330.39" cy="117.77" r="0.5" fill="#440154" stroke="none" stroke-width="0.5" fill-opacity="0.6"/>
<circle cx="332.55" cy="119.09" r="0.5" fill="#440154" stroke="none" stroke-width="0.5" fill-opacity="0.6"/>
<circle cx="329.88" cy="116.16" r="0.5" fill="#440154" stroke="none" stroke-width="0.5" fill-opacity="0.6"/>
<circle cx="333.68" cy="116.7" r="0.5" fill="#440154" stroke="none" stroke-width="0.5" fill-opacity="0.6"/>
<circle cx="332.87" cy="115.47" r="0.5" fill="#440154" stroke="none" stroke-width="0.5" fill-opacity="0.6"/>
<circle cx="327.8" cy="117.49" r="0.5" fill="#440154" stroke="none" stroke-width="0.5" fill-opacity="0.6"/>
<circle cx="331.34" cy="117.94" r="0.5" fill="#440154" stroke="none" stroke-width="0.5" fill-opacity="0.6"/>
<circle cx="332.06" cy="116" r="0.5" fill="#440154" stroke="none" stroke-width="0.5" fill-opacity="0.6"/>
<circle cx="330.7" cy="121.02" r="0.5" fill="#440154" stroke="none" stroke-width="0.5" fill-opacity="0.6"/>
<circle cx="326.48" cy="117.31" r="0.5" fill="#440154" stroke="none" stroke-width="0.5" fill-opacity="0.6"/>
<circle cx="328.52" cy="117.02" r="0.5" fill="#440154" stroke="none" stroke-width="0.5" fill-opacity="0.6"/>
<circle cx="330.13" cy="117.09" r="0.5" fill="#440154" stroke="none" stroke-width="0.5" fill-opacity="0.6"/>
<circle cx="330.44" cy="115.59" r="0.5" fill="#440154" stroke="none" stroke-width="0.5" fill-opacity="0.6"/>
<circle cx="327.27" cy="116.14" r="0.5" fill="#440154" stroke="none" stroke-width="0.5" fill-opacity="0.6"/>
<circle cx="329.67" cy="115.42" r="0.5" fill="#440154" stroke="none" stroke-width="0.5" fill-opacity="0.6"/>
<circle cx="329.99" cy="119.15" r="0.5" fill="#440154" stroke="none" stroke-width="0.5" fill-opacity="0.6"/>
<circle cx="330.29" cy="116.1" r="0.5" fill="#440154" stroke="none" stroke-width="0.5" fill-opacity="0.6"/>
<circle cx="326.29" cy="118.81" r="0.5" fill="#440154" stroke="none" stroke-width="0.5" fill-opacity="0.6"/>
<circle cx="326.76" cy="115.78" r="0.5" fill="#440154" stroke="none" stroke-width="0.5" fill-opacity="0.6"/>
<circle cx="329.11" cy="120.89" r="0.5" fill="#440154" stroke="none" stroke-width="0.5" fill-opacity="0.6"/>
<circle cx="327.72" cy="116.67" r="0.5" fill="#440154" stroke="none" stroke-width="0.5" fill-opacity="0.6"/>
<circle cx="326.35" cy="116.27" r="0.5" fill="#440154" stroke="none" stroke-width="0.5" fill-opacity="0.6"/>
<circle cx="331.01" cy="116.19" r="0.5" fill="#440154" stroke="none" stroke-width="0.5" fill-opacity="0.6"/>
<circle cx="329.53" cy="119.87" r="0.5" fill="#440154" stroke="none" stroke-width="0.5" fill-opacity="0.6"/>
<circle cx="325.34" cy="117.81" r="0.5" fill="#440154" stroke="none" stroke-width="0.5" fill-opacity="0.6"/>
<circle cx="328.11" cy="117.19" r="0.5" fill="#440154" stroke="none" stroke-width="0.5" fill-opacity="0.6"/>
<circle cx="330.43" cy="118.29" r="0.5" fill="#440154" stroke="none" stroke-width="0.5" fill-opacity="0.6"/>
<circle cx="331.23" cy="120.42" r="0.5" fill="#440154" stroke="none" stroke-width="0.5" fill-opacity="0.6"/>
<circle cx="333.31" cy="118.46" r="0.5" fill="#440154" stroke="none" stroke-width="0.5" fill-opacity="0.6"/>
<circle cx="325.85" cy="118.81" r="0.5" fill="#440154" stroke="none" stroke-width="0.5" fill-opacity="0.6"/>
<circle cx="328.83" cy="117.97" r="0.5" fill="#440154" stroke="none" stroke-width="0.5" fill-opacity="0.6"/>
<circle cx="330.04" cy="118.71" r="0.5" fill="#440154" stroke="none" stroke-width="0.5" fill-opacity="0.6"/>
<circle cx="329.18" cy="116.19" r="0.5" fill="#440154" stroke="none" stroke-width="0.5" fill-opacity="0.6"/>
<circle cx="325.61" cy="117.69" r="0.5" fill="#440154" stroke="none" stroke-width="0.5" fill-opacity="0.6"/>
<circle cx="325.75" cy="118.48" r="0.5" fill="#440154" stroke="none" stroke-width="0.5" fill-opacity="0.6"/>
<circle cx="329.3" cy="117.54" r="0.5" fill="#440154" stroke="none" stroke-width="0.5" fill-opacity="0.6"/>
<circle cx="329.34" cy="118.11" r="0.5" fill="#440154" stroke="none" stroke-width="0.5" fill-opacity="0.6"/>
<circle cx="329.23" cy="118.21" r="0.5" fill="#440154" stroke="none" stroke-width="0.5" fill-opacity="0.6"/>
<circle cx="331.44" cy="120.59" r="0.5" fill="#440154" stroke="none" stroke-width="0.5" fill-opacity="0.6"/>
<circle cx="333.3" cy="119.1" r="0.5" fill="#440154" stroke="none" stroke-width="0.5" fill-opacity="0.6"/>
<circle cx="330.75" cy="117.82" r="0.5" fill="#440154" stroke="none" stroke-width="0.5" fill-opacity="0.6"/>
<circle cx="330.48" cy="119.06" r="0.5" fill="#440154" stroke="none" stroke-width="0.5" fill-opacity="0.6"/>
<circle cx="332.41" cy="118.07" r="0.5" fill="#440154" stroke="none" stroke-width="0.5" fill-opacity="0.6"/>
<circle cx="332.86" cy="117.81" r="0.5" fill="#440154" stroke="none" stroke-width="0.5" fill-opacity="0.6"/>
<circle cx="325.71" cy="120.53" r="0.5" fill="#440154" stroke="none" stroke-width="0.5" fill-opacity="0.6"/>
<circle cx="333.77" cy="119.8" r="0.5" fill="#440154" stroke="none" stroke-width="0.5" fill-opacity="0.6"/>
<circle cx="331.2" cy="116.91" r="0.5" fill="#440154" stroke="none" stroke-width="0.5" fill-opacity="0.6"/>
<circle cx="333.39" cy="118.61" r="0.5" fill="#440154" stroke="none" stroke-width="0.5" fill-opacity="0.6"/>
<circle cx="326" cy="118.07" r="0.5" fill="#440154" stroke="none" stroke-width="0.5" fill-opacity="0.6"/>
<circle cx="326.14" cy="117.76" r="0.5" fill="#440154" stroke="none" stroke-width="0.5" fill-opacity="0.6"/>
<line x1="328.7" y1="115.2" x2="328.7" y2="117.3" stroke="#440154" stroke-width="0.6"/>
<line x1="328.7" y1="119.5" x2="328.7" y2="121.2" stroke="#440154" stroke-width="0.6"/>
<rect x="320.5" y="117.3" width="16.4" height="2.2" fill="none" stroke="#440154" stroke-width="0.6"/>
<line x1="320.5" y1="118.4" x2="336.9" y2="118.4" stroke="#440154" stroke-width="0.96"/>
<circle cx="328.4" cy="123.2" r="1.5" fill="#440154" stroke="none" stroke-width="0.5"/>
<circle cx="328.4" cy="125.2" r="1.5" fill="#440154" stroke="none" stroke-width="0.5"/>
<circle cx="328.8" cy="124.2" r="1.5" fill="#440154" stroke="none" stroke-width="0.5"/>
<circle cx="353.73" cy="105.54" r="0.5" fill="#3B528B" stroke="none" stroke-width="0.5" fill-opacity="0.6"/>
<circle cx="350.77" cy="105.07" r="0.5" fill="#3B528B" stroke="none" stroke-width="0.5" fill-opacity="0.6"/>
<circle cx="351.14" cy="105.03" r="0.5" fill="#3B528B" stroke="none" stroke-width="0.5" fill-opacity="0.6"/>
<circle cx="348.27" cy="101.35" r="0.5" fill="#3B528B" stroke="none" stroke-width="0.5" fill-opacity="0.6"/>
<circle cx="351.7" cy="105.68" r="0.5" fill="#3B528B" stroke="none" stroke-width="0.5" fill-opacity="0.6"/>
<circle cx="354.09" cy="106.06" r="0.5" fill="#3B528B" stroke="none" stroke-width="0.5" fill-opacity="0.6"/>
<circle cx="346.99" cy="106.04" r="0.5" fill="#3B528B" stroke="none" stroke-width="0.5" fill-opacity="0.6"/>
<circle cx="346.12" cy="105.06" r="0.5" fill="#3B528B" stroke="none" stroke-width="0.5" fill-opacity="0.6"/>
<circle cx="345.86" cy="104.43" r="0.5" fill="#3B528B" stroke="none" stroke-width="0.5" fill-opacity="0.6"/>
<circle cx="353.01" cy="104.46" r="0.5" fill="#3B528B" stroke="none" stroke-width="0.5" fill-opacity="0.6"/>
<circle cx="350" cy="106.26" r="0.5" fill="#3B528B" stroke="none" stroke-width="0.5" fill-opacity="0.6"/>
<circle cx="348.05" cy="104.62" r="0.5" fill="#3B528B" stroke="none" stroke-width="0.5" fill-opacity="0.6"/>
<circle cx="352.99" cy="109.46" r="0.5" fill="#3B528B" stroke="none" stroke-width="0.5" fill-opacity="0.6"/>
<circle cx="347.62" cy="103.34" r="0.5" fill="#3B528B" stroke="none" stroke-width="0.5" fill-opacity="0.6"/>
<circle cx="352.34" cy="104.05" r="0.5" fill="#3B528B" stroke="none" stroke-width="0.5" fill-opacity="0.6"/>
<circle cx="349" cy="108.12" r="0.5" fill="#3B528B" stroke="none" stroke-width="0.5" fill-opacity="0.6"/>
<circle cx="345.6" cy="108.13" r="0.5" fill="#3B528B" stroke="none" stroke-width="0.5" fill-opacity="0.6"/>
<circle cx="349.74" cy="105.9" r="0.5" fill="#3B528B" stroke="none" stroke-width="0.5" fill-opacity="0.6"/>
<circle cx="346.24" cy="104.08" r="0.5" fill="#3B528B" stroke="none" stroke-width="0.5" fill-opacity="0.6"/>
<circle cx="347.97" cy="107.51" r="0.5" fill="#3B528B" stroke="none" stroke-width="0.5" fill-opacity="0.6"/>
<circle cx="354.08" cy="104.63" r="0.5" fill="#3B528B" stroke="none" stroke-width="0.5" fill-opacity="0.6"/>
<circle cx="347.77" cy="101.56" r="0.5" fill="#3B528B" stroke="none" stroke-width="0.5" fill-opacity="0.6"/>
<circle cx="352.61" cy="104.03" r="0.5" fill="#3B528B" stroke="none" stroke-width="0.5" fill-opacity="0.6"/>
<circle cx="349.54" cy="105.13" r="0.5" fill="#3B528B" stroke="none" stroke-width="0.5" fill-opacity="0.6"/>
<circle cx="346.75" cy="105.51" r="0.5" fill="#3B528B" stroke="none" stroke-width="0.5" fill-opacity="0.6"/>
<circle cx="349.3" cy="101.55" r="0.5" fill="#3B528B" stroke="none" stroke-width="0.5" fill-opacity="0.6"/>
<circle cx="354.14" cy="104.49" r="0.5" fill="#3B528B" stroke="none" stroke-width="0.5" fill-opacity="0.6"/>
<circle cx="353.39" cy="103.24" r="0.5" fill="#3B528B" stroke="none" stroke-width="0.5" fill-opacity="0.6"/>
<circle cx="353.12" cy="104.77" r="0.5" fill="#3B528B" stroke="none" stroke-width="0.5" fill-opacity="0.6"/>
<circle cx="354.31" cy="101.4" r="0.5" fill="#3B528B" stroke="none" stroke-width="0.5" fill-opacity="0.6"/>
<circle cx="352.4" cy="104.47" r="0.5" fill="#3B528B" stroke="none" stroke-width="0.5" fill-opacity="0.6"/>
<circle cx="346.25" cy="103.17" r="0.5" fill="#3B528B" stroke="none" stroke-width="0.5" fill-opacity="0.6"/>
<circle cx="347.74" cy="105.18" r="0.5" fill="#3B528B" stroke="none" stroke-width="0.5" fill-opacity="0.6"/>
<circle cx="349.59" cy="103.85" r="0.5" fill="#3B528B" stroke="none" stroke-width="0.5" fill-opacity="0.6"/>
<circle cx="350.66" cy="104.85" r="0.5" fill="#3B528B" stroke="none" stroke-width="0.5" fill-opacity="0.6"/>
<circle cx="346.96" cy="102.15" r="0.5" fill="#3B528B" stroke="none" stroke-width="0.5" fill-opacity="0.6"/>
<circle cx="347.8" cy="107.86" r="0.5" fill="#3B528B" stroke="none" stroke-width="0.5" fill-opacity="0.6"/>
<circle cx="353.88" cy="105.53" r="0.5" fill="#3B528B" stroke="none" stroke-width="0.5" fill-opacity="0.6"/>
<circle cx="353.36" cy="105.99" r="0.5" fill="#3B528B" stroke="none" stroke-width="0.5" fill-opacity="0.6"/>
<circle cx="346.51" cy="104.29" r="0.5" fill="#3B528B" stroke="none" stroke-width="0.5" fill-opacity="0.6"/>
<circle cx="347.7" cy="106.02" r="0.5" fill="#3B528B" stroke="none" stroke-width="0.5" fill-opacity="0.6"/>
<circle cx="352.85" cy="102.81" r="0.5" fill="#3B528B" stroke="none" stroke-width="0.5" fill-opacity="0.6"/>
<circle cx="347.14" cy="103.14" r="0.5" fill="#3B528B" stroke="none" stroke-width="0.5" fill-opacity="0.6"/>
<circle cx="347.61" cy="101.12" r="0.5" fill="#3B528B" stroke="none" stroke-width="0.5" fill-opacity="0.6"/>
<circle cx="351.01" cy="108.17" r="0.5" fill="#3B528B" stroke="none" stroke-width="0.5" fill-opacity="0.6"/>
<circle cx="347.4" cy="105.92" r="0.5" fill="#3B528B" stroke="none" stroke-width="0.5" fill-opacity="0.6"/>
<circle cx="349.52" cy="104.49" r="0.5" fill="#3B528B" stroke="none" stroke-width="0.5" fill-opacity="0.6"/>
<circle cx="348.85" cy="104.29" r="0.5" fill="#3B528B" stroke="none" stroke-width="0.5" fill-opacity="0.6"/>
<circle cx="348.79" cy="101.68" r="0.5" fill="#3B528B" stroke="none" stroke-width="0.5" fill-opacity="0.6"/>
<circle cx="351.38" cy="109.32" r="0.5" fill="#3B528B" stroke="none" stroke-width="0.5" fill-opacity="0.6"/>
<line x1="349" y1="100.5" x2="349" y2="103.9" stroke="#3B528B" stroke-width="0.6"/>
<line x1="349" y1="106.1" x2="349" y2="109.5" stroke="#3B528B" stroke-width="0.6"/>
<rect x="340.8" y="103.9" width="16.4" height="2.2" fill="none" stroke="#3B528B" stroke-width="0.6"/>
<line x1="340.8" y1="105" x2="357.2" y2="105" stroke="#3B528B" stroke-width="0.96"/>
<circle cx="348.8" cy="99.2" r="1.5" fill="#3B528B" stroke="none" stroke-width="0.5"/>
<circle cx="348.8" cy="110.4" r="1.5" fill="#3B528B" stroke="none" stroke-width="0.5"/>
<circle cx="371.66" cy="93.1" r="0.5" fill="#21908C" stroke="none" stroke-width="0.5" fill-opacity="0.6"/>
<circle cx="369.1" cy="86.47" r="0.5" fill="#21908C" stroke="none" stroke-width="0.5" fill-opacity="0.6"/>
<circle cx="371.88" cy="91.42" r="0.5" fill="#21908C" stroke="none" stroke-width="0.5" fill-opacity="0.6"/>
<circle cx="371.62" cy="91.68" r="0.5" fill="#21908C" stroke="none" stroke-width="0.5" fill-opacity="0.6"/>
<circle cx="367.23" cy="89.13" r="0.5" fill="#21908C" stroke="none" stroke-width="0.5" fill-opacity="0.6"/>
<circle cx="373.01" cy="84.54" r="0.5" fill="#21908C" stroke="none" stroke-width="0.5" fill-opacity="0.6"/>
<circle cx="368.77" cy="90.66" r="0.5" fill="#21908C" stroke="none" stroke-width="0.5" fill-opacity="0.6"/>
<circle cx="365.96" cy="95.75" r="0.5" fill="#21908C" stroke="none" stroke-width="0.5" fill-opacity="0.6"/>
<circle cx="370.28" cy="92.07" r="0.5" fill="#21908C" stroke="none" stroke-width="0.5" fill-opacity="0.6"/>
<circle cx="374.13" cy="92.52" r="0.5" fill="#21908C" stroke="none" stroke-width="0.5" fill-opacity="0.6"/>
<circle cx="366.99" cy="89.02" r="0.5" fill="#21908C" stroke="none" stroke-width="0.5" fill-opacity="0.6"/>
<circle cx="367.24" cy="92.59" r="0.5" fill="#21908C" stroke="none" stroke-width="0.5" fill-opacity="0.6"/>
<circle cx="367.31" cy="84.43" r="0.5" fill="#21908C" stroke="none" stroke-width="0.5" fill-opacity="0.6"/>
<circle cx="369.49" cy="89.43" r="0.5" fill="#21908C" stroke="none" stroke-width="0.5" fill-opacity="0.6"/>
<circle cx="369.18" cy="90.52" r="0.5" fill="#21908C" stroke="none" stroke-width="0.5" fill-opacity="0.6"/>
<circle cx="374.31" cy="90.9" r="0.5" fill="#21908C" stroke="none" stroke-width="0.5" fill-opacity="0.6"/>
<circle cx="368.94" cy="93.19" r="0.5" fill="#21908C" stroke="none" stroke-width="0.5" fill-opacity="0.6"/>
<circle cx="371.73" cy="93.57" r="0.5" fill="#21908C" stroke="none" stroke-width="0.5" fill-opacity="0.6"/>
<circle cx="369" cy="87.86" r="0.5" fill="#21908C" stroke="none" stroke-width="0.5" fill-opacity="0.6"/>
<circle cx="370.2" cy="95.28" r="0.5" fill="#21908C" stroke="none" stroke-width="0.5" fill-opacity="0.6"/>
<circle cx="369.59" cy="91.5" r="0.5" fill="#21908C" stroke="none" stroke-width="0.5" fill-opacity="0.6"/>
<circle cx="369.56" cy="86.88" r="0.5" fill="#21908C" stroke="none" stroke-width="0.5" fill-opacity="0.6"/>
<circle cx="366.7" cy="94.74" r="0.5" fill="#21908C" stroke="none" stroke-width="0.5" fill-opacity="0.6"/>
<circle cx="371.92" cy="86.25" r="0.5" fill="#21908C" stroke="none" stroke-width="0.5" fill-opacity="0.6"/>
<circle cx="368.83" cy="88.11" r="0.5" fill="#21908C" stroke="none" stroke-width="0.5" fill-opacity="0.6"/>
<circle cx="369.84" cy="84.44" r="0.5" fill="#21908C" stroke="none" stroke-width="0.5" fill-opacity="0.6"/>
<circle cx="369.99" cy="88.15" r="0.5" fill="#21908C" stroke="none" stroke-width="0.5" fill-opacity="0.6"/>
<circle cx="374.21" cy="90.58" r="0.5" fill="#21908C" stroke="none" stroke-width="0.5" fill-opacity="0.6"/>
<circle cx="369" cy="92.13" r="0.5" fill="#21908C" stroke="none" stroke-width="0.5" fill-opacity="0.6"/>
<circle cx="373.83" cy="91.04" r="0.5" fill="#21908C" stroke="none" stroke-width="0.5" fill-opacity="0.6"/>
<circle cx="372.58" cy="88.06" r="0.5" fill="#21908C" stroke="none" stroke-width="0.5" fill-opacity="0.6"/>
<circle cx="365.88" cy="87.15" r="0.5" fill="#21908C" stroke="none" stroke-width="0.5" fill-opacity="0.6"/>
<circle cx="374.46" cy="90.24" r="0.5" fill="#21908C" stroke="none" stroke-width="0.5" fill-opacity="0.6"/>
<circle cx="366.01" cy="90.9" r="0.5" fill="#21908C" stroke="none" stroke-width="0.5" fill-opacity="0.6"/>
<circle cx="373.12" cy="94.96" r="0.5" fill="#21908C" stroke="none" stroke-width="0.5" fill-opacity="0.6"/>
<circle cx="370.44" cy="86.98" r="0.5" fill="#21908C" stroke="none" stroke-width="0.5" fill-opacity="0.6"/>
<circle cx="368.11" cy="92.67" r="0.5" fill="#21908C" stroke="none" stroke-width="0.5" fill-opacity="0.6"/>
<circle cx="367.23" cy="96.49" r="0.5" fill="#21908C" stroke="none" stroke-width="0.5" fill-opacity="0.6"/>
<circle cx="368.25" cy="91.81" r="0.5" fill="#21908C" stroke="none" stroke-width="0.5" fill-opacity="0.6"/>
<circle cx="371.92" cy="91.07" r="0.5" fill="#21908C" stroke="none" stroke-width="0.5" fill-opacity="0.6"/>
<circle cx="368.31" cy="86.76" r="0.5" fill="#21908C" stroke="none" stroke-width="0.5" fill-opacity="0.6"/>
<circle cx="371.91" cy="90.64" r="0.5" fill="#21908C" stroke="none" stroke-width="0.5" fill-opacity="0.6"/>
<circle cx="369.5" cy="91.9" r="0.5" fill="#21908C" stroke="none" stroke-width="0.5" fill-opacity="0.6"/>
<circle cx="374.42" cy="89.1" r="0.5" fill="#21908C" stroke="none" stroke-width="0.5" fill-opacity="0.6"/>
<circle cx="373.9" cy="92.63" r="0.5" fill="#21908C" stroke="none" stroke-width="0.5" fill-opacity="0.6"/>
<circle cx="369.48" cy="94.57" r="0.5" fill="#21908C" stroke="none" stroke-width="0.5" fill-opacity="0.6"/>
<circle cx="372.75" cy="96.58" r="0.5" fill="#21908C" stroke="none" stroke-width="0.5" fill-opacity="0.6"/>
<circle cx="369.04" cy="88.67" r="0.5" fill="#21908C" stroke="none" stroke-width="0.5" fill-opacity="0.6"/>
<circle cx="365.95" cy="91.76" r="0.5" fill="#21908C" stroke="none" stroke-width="0.5" fill-opacity="0.6"/>
<circle cx="372.82" cy="96.62" r="0.5" fill="#21908C" stroke="none" stroke-width="0.5" fill-opacity="0.6"/>
<line x1="369.2" y1="83.7" x2="369.2" y2="86.4" stroke="#21908C" stroke-width="0.6"/>
<line x1="369.2" y1="92.6" x2="369.2" y2="98" stroke="#21908C" stroke-width="0.6"/>
<rect x="361" y="86.4" width="16.4" height="6.2" fill="none" stroke="#21908C" stroke-width="0.6"/>
<line x1="361" y1="89.3" x2="377.4" y2="89.3" stroke="#21908C" stroke-width="0.96"/>
<circle cx="392.02" cy="62.71" r="0.5" fill="#5DC863" stroke="none" stroke-width="0.5" fill-opacity="0.6"/>
<circle cx="388.03" cy="57.34" r="0.5" fill="#5DC863" stroke="none" stroke-width="0.5" fill-opacity="0.6"/>
<circle cx="392.46" cy="59.08" r="0.5" fill="#5DC863" stroke="none" stroke-width="0.5" fill-opacity="0.6"/>
<circle cx="387.88" cy="61.5" r="0.5" fill="#5DC863" stroke="none" stroke-width="0.5" fill-opacity="0.6"/>
<circle cx="393.37" cy="60.71" r="0.5" fill="#5DC863" stroke="none" stroke-width="0.5" fill-opacity="0.6"/>
<circle cx="388.43" cy="54.26" r="0.5" fill="#5DC863" stroke="none" stroke-width="0.5" fill-opacity="0.6"/>
<circle cx="393.13" cy="64.18" r="0.5" fill="#5DC863" stroke="none" stroke-width="0.5" fill-opacity="0.6"/>
<circle cx="392.55" cy="68.87" r="0.5" fill="#5DC863" stroke="none" stroke-width="0.5" fill-opacity="0.6"/>
<circle cx="388.26" cy="68.29" r="0.5" fill="#5DC863" stroke="none" stroke-width="0.5" fill-opacity="0.6"/>
<circle cx="392.64" cy="62.76" r="0.5" fill="#5DC863" stroke="none" stroke-width="0.5" fill-opacity="0.6"/>
<circle cx="389.2" cy="61.73" r="0.5" fill="#5DC863" stroke="none" stroke-width="0.5" fill-opacity="0.6"/>
<circle cx="387.03" cy="59.65" r="0.5" fill="#5DC863" stroke="none" stroke-width="0.5" fill-opacity="0.6"/>
<circle cx="394.67" cy="68.37" r="0.5" fill="#5DC863" stroke="none" stroke-width="0.5" fill-opacity="0.6"/>
<circle cx="392.59" cy="63.98" r="0.5" fill="#5DC863" stroke="none" stroke-width="0.5" fill-opacity="0.6"/>
<circle cx="389.9" cy="62.65" r="0.5" fill="#5DC863" stroke="none" stroke-width="0.5" fill-opacity="0.6"/>
<circle cx="390.6" cy="58.9" r="0.5" fill="#5DC863" stroke="none" stroke-width="0.5" fill-opacity="0.6"/>
<circle cx="391.33" cy="60.93" r="0.5" fill="#5DC863" stroke="none" stroke-width="0.5" fill-opacity="0.6"/>
<circle cx="390.32" cy="56.35" r="0.5" fill="#5DC863" stroke="none" stroke-width="0.5" fill-opacity="0.6"/>
<circle cx="387.71" cy="59.16" r="0.5" fill="#5DC863" stroke="none" stroke-width="0.5" fill-opacity="0.6"/>
<circle cx="391.73" cy="55.32" r="0.5" fill="#5DC863" stroke="none" stroke-width="0.5" fill-opacity="0.6"/>
<circle cx="392.33" cy="61.01" r="0.5" fill="#5DC863" stroke="none" stroke-width="0.5" fill-opacity="0.6"/>
<circle cx="387.25" cy="54.78" r="0.5" fill="#5DC863" stroke="none" stroke-width="0.5" fill-opacity="0.6"/>
<circle cx="391.62" cy="69.09" r="0.5" fill="#5DC863" stroke="none" stroke-width="0.5" fill-opacity="0.6"/>
<circle cx="393.64" cy="60.57" r="0.5" fill="#5DC863" stroke="none" stroke-width="0.5" fill-opacity="0.6"/>
<circle cx="387.79" cy="68.46" r="0.5" fill="#5DC863" stroke="none" stroke-width="0.5" fill-opacity="0.6"/>
<circle cx="392.31" cy="60.75" r="0.5" fill="#5DC863" stroke="none" stroke-width="0.5" fill-opacity="0.6"/>
<circle cx="391.31" cy="64.97" r="0.5" fill="#5DC863" stroke="none" stroke-width="0.5" fill-opacity="0.6"/>
<circle cx="391.43" cy="57.81" r="0.5" fill="#5DC863" stroke="none" stroke-width="0.5" fill-opacity="0.6"/>
<circle cx="389.16" cy="64.64" r="0.5" fill="#5DC863" stroke="none" stroke-width="0.5" fill-opacity="0.6"/>
<circle cx="388.6" cy="60.14" r="0.5" fill="#5DC863" stroke="none" stroke-width="0.5" fill-opacity="0.6"/>
<circle cx="386.99" cy="62.7" r="0.5" fill="#5DC863" stroke="none" stroke-width="0.5" fill-opacity="0.6"/>
<circle cx="391.66" cy="57.85" r="0.5" fill="#5DC863" stroke="none" stroke-width="0.5" fill-opacity="0.6"/>
<circle cx="386.34" cy="63.78" r="0.5" fill="#5DC863" stroke="none" stroke-width="0.5" fill-opacity="0.6"/>
<circle cx="386.82" cy="60.18" r="0.5" fill="#5DC863" stroke="none" stroke-width="0.5" fill-opacity="0.6"/>
<circle cx="387.07" cy="65.18" r="0.5" fill="#5DC863" stroke="none" stroke-width="0.5" fill-opacity="0.6"/>
<circle cx="391.26" cy="58.84" r="0.5" fill="#5DC863" stroke="none" stroke-width="0.5" fill-opacity="0.6"/>
<circle cx="389.23" cy="61.01" r="0.5" fill="#5DC863" stroke="none" stroke-width="0.5" fill-opacity="0.6"/>
<circle cx="388.95" cy="54.1" r="0.5" fill="#5DC863" stroke="none" stroke-width="0.5" fill-opacity="0.6"/>
<circle cx="390.55" cy="71.46" r="0.5" fill="#5DC863" stroke="none" stroke-width="0.5" fill-opacity="0.6"/>
<circle cx="388.61" cy="66.05" r="0.5" fill="#5DC863" stroke="none" stroke-width="0.5" fill-opacity="0.6"/>
<circle cx="394.01" cy="61.26" r="0.5" fill="#5DC863" stroke="none" stroke-width="0.5" fill-opacity="0.6"/>
<circle cx="392.02" cy="58.65" r="0.5" fill="#5DC863" stroke="none" stroke-width="0.5" fill-opacity="0.6"/>
<circle cx="391.17" cy="58.65" r="0.5" fill="#5DC863" stroke="none" stroke-width="0.5" fill-opacity="0.6"/>
<circle cx="388.53" cy="58.4" r="0.5" fill="#5DC863" stroke="none" stroke-width="0.5" fill-opacity="0.6"/>
<circle cx="386.34" cy="60.07" r="0.5" fill="#5DC863" stroke="none" stroke-width="0.5" fill-opacity="0.6"/>
<circle cx="392.67" cy="55.56" r="0.5" fill="#5DC863" stroke="none" stroke-width="0.5" fill-opacity="0.6"/>
<circle cx="392.81" cy="54.07" r="0.5" fill="#5DC863" stroke="none" stroke-width="0.5" fill-opacity="0.6"/>
<circle cx="390.88" cy="61.1" r="0.5" fill="#5DC863" stroke="none" stroke-width="0.5" fill-opacity="0.6"/>
<circle cx="389.83" cy="59.21" r="0.5" fill="#5DC863" stroke="none" stroke-width="0.5" fill-opacity="0.6"/>
<circle cx="386.99" cy="64.12" r="0.5" fill="#5DC863" stroke="none" stroke-width="0.5" fill-opacity="0.6"/>
<line x1="389.4" y1="54" x2="389.4" y2="57.3" stroke="#5DC863" stroke-width="0.6"/>
<line x1="389.4" y1="65.2" x2="389.4" y2="72" stroke="#5DC863" stroke-width="0.6"/>
<rect x="381.2" y="57.3" width="16.4" height="7.9" fill="none" stroke="#5DC863" stroke-width="0.6"/>
<line x1="381.2" y1="60.3" x2="397.6" y2="60.3" stroke="#5DC863" stroke-width="0.96"/>
<circle cx="411.94" cy="26.66" r="0.5" fill="#FDE725" stroke="none" stroke-width="0.5" fill-opacity="0.6"/>
<circle cx="408.45" cy="23.71" r="0.5" fill="#FDE725" stroke="none" stroke-width="0.5" fill-opacity="0.6"/>
<circle cx="408.87" cy="27.58" r="0.5" fill="#FDE725" stroke="none" stroke-width="0.5" fill-opacity="0.6"/>
<circle cx="413.04" cy="24.97" r="0.5" fill="#FDE725" stroke="none" stroke-width="0.5" fill-opacity="0.6"/>
<circle cx="414.13" cy="24.98" r="0.5" fill="#FDE725" stroke="none" stroke-width="0.5" fill-opacity="0.6"/>
<circle cx="413.28" cy="23.6" r="0.5" fill="#FDE725" stroke="none" stroke-width="0.5" fill-opacity="0.6"/>
<circle cx="411.05" cy="22.5" r="0.5" fill="#FDE725" stroke="none" stroke-width="0.5" fill-opacity="0.6"/>
<circle cx="411.93" cy="22.65" r="0.5" fill="#FDE725" stroke="none" stroke-width="0.5" fill-opacity="0.6"/>
<circle cx="406.93" cy="25.38" r="0.5" fill="#FDE725" stroke="none" stroke-width="0.5" fill-opacity="0.6"/>
<circle cx="409.75" cy="27.62" r="0.5" fill="#FDE725" stroke="none" stroke-width="0.5" fill-opacity="0.6"/>
<circle cx="411.55" cy="25.39" r="0.5" fill="#FDE725" stroke="none" stroke-width="0.5" fill-opacity="0.6"/>
<circle cx="407.18" cy="27.87" r="0.5" fill="#FDE725" stroke="none" stroke-width="0.5" fill-opacity="0.6"/>
<circle cx="407.79" cy="27.34" r="0.5" fill="#FDE725" stroke="none" stroke-width="0.5" fill-opacity="0.6"/>
<circle cx="410.72" cy="27.26" r="0.5" fill="#FDE725" stroke="none" stroke-width="0.5" fill-opacity="0.6"/>
<circle cx="408.12" cy="25.78" r="0.5" fill="#FDE725" stroke="none" stroke-width="0.5" fill-opacity="0.6"/>
<circle cx="407.1" cy="26" r="0.5" fill="#FDE725" stroke="none" stroke-width="0.5" fill-opacity="0.6"/>
<circle cx="408.67" cy="21.9" r="0.5" fill="#FDE725" stroke="none" stroke-width="0.5" fill-opacity="0.6"/>
<circle cx="407.2" cy="26.79" r="0.5" fill="#FDE725" stroke="none" stroke-width="0.5" fill-opacity="0.6"/>
<circle cx="410.43" cy="21.93" r="0.5" fill="#FDE725" stroke="none" stroke-width="0.5" fill-opacity="0.6"/>
<circle cx="410.21" cy="26.35" r="0.5" fill="#FDE725" stroke="none" stroke-width="0.5" fill-opacity="0.6"/>
<circle cx="411.44" cy="25.37" r="0.5" fill="#FDE725" stroke="none" stroke-width="0.5" fill-opacity="0.6"/>
<circle cx="408.28" cy="25.86" r="0.5" fill="#FDE725" stroke="none" stroke-width="0.5" fill-opacity="0.6"/>
<circle cx="406.78" cy="30.39" r="0.5" fill="#FDE725" stroke="none" stroke-width="0.5" fill-opacity="0.6"/>
<circle cx="411.23" cy="26.66" r="0.5" fill="#FDE725" stroke="none" stroke-width="0.5" fill-opacity="0.6"/>
<circle cx="414.51" cy="26.67" r="0.5" fill="#FDE725" stroke="none" stroke-width="0.5" fill-opacity="0.6"/>
<circle cx="411.21" cy="24.47" r="0.5" fill="#FDE725" stroke="none" stroke-width="0.5" fill-opacity="0.6"/>
<circle cx="408.86" cy="23.64" r="0.5" fill="#FDE725" stroke="none" stroke-width="0.5" fill-opacity="0.6"/>
<circle cx="410.33" cy="26.4" r="0.5" fill="#FDE725" stroke="none" stroke-width="0.5" fill-opacity="0.6"/>
<circle cx="406.51" cy="25.56" r="0.5" fill="#FDE725" stroke="none" stroke-width="0.5" fill-opacity="0.6"/>
<circle cx="411.36" cy="30.83" r="0.5" fill="#FDE725" stroke="none" stroke-width="0.5" fill-opacity="0.6"/>
<circle cx="409.35" cy="27.48" r="0.5" fill="#FDE725" stroke="none" stroke-width="0.5" fill-opacity="0.6"/>
<circle cx="407.49" cy="24.32" r="0.5" fill="#FDE725" stroke="none" stroke-width="0.5" fill-opacity="0.6"/>
<circle cx="413.88" cy="25.01" r="0.5" fill="#FDE725" stroke="none" stroke-width="0.5" fill-opacity="0.6"/>
<circle cx="411.51" cy="25.07" r="0.5" fill="#FDE725" stroke="none" stroke-width="0.5" fill-opacity="0.6"/>
<circle cx="412.9" cy="23.91" r="0.5" fill="#FDE725" stroke="none" stroke-width="0.5" fill-opacity="0.6"/>
<circle cx="411.44" cy="26.61" r="0.5" fill="#FDE725" stroke="none" stroke-width="0.5" fill-opacity="0.6"/>
<circle cx="410.67" cy="28.57" r="0.5" fill="#FDE725" stroke="none" stroke-width="0.5" fill-opacity="0.6"/>
<circle cx="409.58" cy="24.66" r="0.5" fill="#FDE725" stroke="none" stroke-width="0.5" fill-opacity="0.6"/>
<circle cx="413.01" cy="26.46" r="0.5" fill="#FDE725" stroke="none" stroke-width="0.5" fill-opacity="0.6"/>
<circle cx="411.59" cy="30.15" r="0.5" fill="#FDE725" stroke="none" stroke-width="0.5" fill-opacity="0.6"/>
<circle cx="410.33" cy="27.47" r="0.5" fill="#FDE725" stroke="none" stroke-width="0.5" fill-opacity="0.6"/>
<circle cx="407.11" cy="23.63" r="0.5" fill="#FDE725" stroke="none" stroke-width="0.5" fill-opacity="0.6"/>
<circle cx="407.44" cy="26.62" r="0.5" fill="#FDE725" stroke="none" stroke-width="0.5" fill-opacity="0.6"/>
<circle cx="410.99" cy="25.77" r="0.5" fill="#FDE725" stroke="none" stroke-width="0.5" fill-opacity="0.6"/>
<circle cx="408.46" cy="28.85" r="0.5" fill="#FDE725" stroke="none" stroke-width="0.5" fill-opacity="0.6"/>
<circle cx="407.33" cy="25.25" r="0.5" fill="#FDE725" stroke="none" stroke-width="0.5" fill-opacity="0.6"/>
<circle cx="412.58" cy="24.71" r="0.5" fill="#FDE725" stroke="none" stroke-width="0.5" fill-opacity="0.6"/>
<circle cx="408.15" cy="26.54" r="0.5" fill="#FDE725" stroke="none" stroke-width="0.5" fill-opacity="0.6"/>
<circle cx="409.31" cy="27.57" r="0.5" fill="#FDE725" stroke="none" stroke-width="0.5" fill-opacity="0.6"/>
<circle cx="411.1" cy="27.57" r="0.5" fill="#FDE725" stroke="none" stroke-width="0.5" fill-opacity="0.6"/>
<line x1="409.6" y1="21" x2="409.6" y2="24.2" stroke="#FDE725" stroke-width="0.6"/>
<line x1="409.6" y1="27.7" x2="409.6" y2="31" stroke="#FDE725" stroke-width="0.6"/>
<rect x="401.4" y="24.2" width="16.4" height="3.5" fill="none" stroke="#FDE725" stroke-width="0.6"/>
<line x1="401.4" y1="26" x2="417.8" y2="26" stroke="#FDE725" stroke-width="0.96"/>
<circle cx="409.7" cy="33" r="1.5" fill="#FDE725" stroke="none" stroke-width="0.5"/>
<circle cx="409.7" cy="34.2" r="1.5" fill="#FDE725" stroke="none" stroke-width="0.5"/>
<circle cx="409.9" cy="35.4" r="1.5" fill="#FDE725" stroke="none" stroke-width="0.5"/>
<circle cx="409.6" cy="36.2" r="1.5" fill="#FDE725" stroke="none" stroke-width="0.5"/>
<text x="0" y="0" font-size="8.06" text-anchor="end" fill="#222" stroke="#222" stroke-width="0.1" transform="translate(328.6 133.9) scale(1.08 1) rotate(-45) translate(0 5.8)">70–80</text>
<text x="0" y="0" font-size="8.06" text-anchor="end" fill="#222" stroke="#222" stroke-width="0.1" transform="translate(348.9 133.9) scale(1.08 1) rotate(-45) translate(0 5.8)">80–90</text>
<text x="0" y="0" font-size="8.06" text-anchor="end" fill="#222" stroke="#222" stroke-width="0.1" transform="translate(369.1 133.9) scale(1.08 1) rotate(-45) translate(0 5.8)">90–95</text>
<text x="0" y="0" font-size="8.06" text-anchor="end" fill="#222" stroke="#222" stroke-width="0.1" transform="translate(389.3 133.9) scale(1.08 1) rotate(-45) translate(0 5.8)">95–98</text>
<text x="0" y="0" font-size="8.06" text-anchor="end" fill="#222" stroke="#222" stroke-width="0.1" transform="translate(409.5 133.9) scale(1.08 1) rotate(-45) translate(0 5.8)">98–100</text>
<text x="303.2" y="166.7" font-size="9.8" text-anchor="start" fill="#000" stroke="#000" stroke-width="0.1">Identity of 1RS to CS gene (%)</text>
<text x="436.6" y="7" font-size="9.6" text-anchor="start" fill="#000" stroke="#000" stroke-width="0.1" font-weight="bold">d</text>
<line x1="569.5" y1="15.5" x2="569.5" y2="129.3" stroke="#f0f0f0" stroke-width="0.45"/>
<line x1="587.5" y1="15.5" x2="587.5" y2="129.3" stroke="#f0f0f0" stroke-width="0.45"/>
<line x1="605.5" y1="15.5" x2="605.5" y2="129.3" stroke="#f0f0f0" stroke-width="0.45"/>
<line x1="560.5" y1="15.5" x2="560.5" y2="129.3" stroke="#ebebeb" stroke-width="0.6"/>
<line x1="578.5" y1="15.5" x2="578.5" y2="129.3" stroke="#ebebeb" stroke-width="0.6"/>
<line x1="596.5" y1="15.5" x2="596.5" y2="129.3" stroke="#ebebeb" stroke-width="0.6"/>
<line x1="614.5" y1="15.5" x2="614.5" y2="129.3" stroke="#ebebeb" stroke-width="0.6"/>
<rect x="551.5" y="15.5" width="66.3" height="113.8" fill="none" stroke="#333333" stroke-width="0.7"/>
<line x1="560.5" y1="129.3" x2="560.5" y2="131.3" stroke="#333" stroke-width="0.6"/>
<line x1="578.5" y1="129.3" x2="578.5" y2="131.3" stroke="#333" stroke-width="0.6"/>
<line x1="596.5" y1="129.3" x2="596.5" y2="131.3" stroke="#333" stroke-width="0.6"/>
<line x1="614.5" y1="129.3" x2="614.5" y2="131.3" stroke="#333" stroke-width="0.6"/>
<line x1="551.5" y1="27" x2="617.8" y2="27" stroke="#ebebeb" stroke-width="0.6"/>
<line x1="549.5" y1="27" x2="551.5" y2="27" stroke="#333" stroke-width="0.6"/>
<line x1="551.5" y1="45.3" x2="617.8" y2="45.3" stroke="#ebebeb" stroke-width="0.6"/>
<line x1="549.5" y1="45.3" x2="551.5" y2="45.3" stroke="#333" stroke-width="0.6"/>
<line x1="551.5" y1="63.5" x2="617.8" y2="63.5" stroke="#ebebeb" stroke-width="0.6"/>
<line x1="549.5" y1="63.5" x2="551.5" y2="63.5" stroke="#333" stroke-width="0.6"/>
<line x1="551.5" y1="81.8" x2="617.8" y2="81.8" stroke="#ebebeb" stroke-width="0.6"/>
<line x1="549.5" y1="81.8" x2="551.5" y2="81.8" stroke="#333" stroke-width="0.6"/>
<line x1="551.5" y1="100.2" x2="617.8" y2="100.2" stroke="#ebebeb" stroke-width="0.6"/>
<line x1="549.5" y1="100.2" x2="551.5" y2="100.2" stroke="#333" stroke-width="0.6"/>
<line x1="551.5" y1="118.7" x2="617.8" y2="118.7" stroke="#ebebeb" stroke-width="0.6"/>
<line x1="549.5" y1="118.7" x2="551.5" y2="118.7" stroke="#333" stroke-width="0.6"/>
<text x="560.5" y="139" font-size="8.3" text-anchor="middle" fill="#222" stroke="#222" stroke-width="0.1">1.5</text>
<text x="578.5" y="139" font-size="8.3" text-anchor="middle" fill="#222" stroke="#222" stroke-width="0.1">2.0</text>
<text x="596.5" y="139" font-size="8.3" text-anchor="middle" fill="#222" stroke="#222" stroke-width="0.1">2.5</text>
<text x="614.5" y="139" font-size="8.3" text-anchor="middle" fill="#222" stroke="#222" stroke-width="0.1">3.0</text>
<text x="548.5" y="29.9" font-size="8.3" text-anchor="end" fill="#222" stroke="#222" stroke-width="0.1">hydrogen peroxide metabolic</text>
<text x="548.5" y="48.2" font-size="8.3" text-anchor="end" fill="#222" stroke="#222" stroke-width="0.1">hydrogen peroxide catabolic</text>
<text x="548.5" y="66.4" font-size="8.3" text-anchor="end" fill="#222" stroke="#222" stroke-width="0.1">response to oxidative stress</text>
<text x="548.5" y="84.7" font-size="8.3" text-anchor="end" fill="#222" stroke="#222" stroke-width="0.1">response to stress</text>
<text x="548.5" y="103.1" font-size="8.3" text-anchor="end" fill="#222" stroke="#222" stroke-width="0.1">response to stimulus</text>
<text x="548.5" y="121.6" font-size="8.3" text-anchor="end" fill="#222" stroke="#222" stroke-width="0.1">defense response</text>
<circle cx="608.5" cy="27" r="2.6" fill="#F9E547" stroke="none" stroke-width="0.5"/>
<circle cx="604.8" cy="45.3" r="2.6" fill="#F3DE4A" stroke="none" stroke-width="0.5"/>
<circle cx="593.5" cy="63.5" r="2.6" fill="#B7A86A" stroke="none" stroke-width="0.5"/>
<circle cx="592.5" cy="81.7" r="4.3" fill="#23407A" stroke="none" stroke-width="0.5"/>
<circle cx="563.5" cy="100.2" r="4.7" fill="#0B2456" stroke="none" stroke-width="0.5"/>
<circle cx="559.8" cy="118.6" r="3.4" fill="#1E3C78" stroke="none" stroke-width="0.5"/>
<text x="586" y="149.6" font-size="8.2" text-anchor="middle" fill="#000" stroke="#000" stroke-width="0.1">−log10(<tspan font-style="italic">p</tspan>−adjust)</text>
<text x="577" y="166" font-size="9.9" text-anchor="middle" fill="#000" stroke="#000" stroke-width="0.1">DEGs of 1RS.1BL vs. Rye.1RS</text>
<text x="624" y="19.2" font-size="8.2" text-anchor="start" fill="#000" stroke="#000" stroke-width="0.1">Gene number</text>
<circle cx="632.3" cy="27" r="3.3" fill="#000" stroke="none" stroke-width="0.5"/>
<text x="639.5" y="29.9" font-size="8.2" text-anchor="start" fill="#1a1a1a" stroke="#1a1a1a" stroke-width="0.1">10</text>
<circle cx="632.3" cy="37" r="3.8" fill="#000" stroke="none" stroke-width="0.5"/>
<text x="639.5" y="39.9" font-size="8.2" text-anchor="start" fill="#1a1a1a" stroke="#1a1a1a" stroke-width="0.1">15</text>
<circle cx="632.3" cy="47" r="4.3" fill="#000" stroke="none" stroke-width="0.5"/>
<text x="639.5" y="49.9" font-size="8.2" text-anchor="start" fill="#1a1a1a" stroke="#1a1a1a" stroke-width="0.1">20</text>
<circle cx="632.3" cy="58.7" r="5" fill="#000" stroke="none" stroke-width="0.5"/>
<text x="639.5" y="61.6" font-size="8.2" text-anchor="start" fill="#1a1a1a" stroke="#1a1a1a" stroke-width="0.1">25</text>
<text x="624" y="81.6" font-size="8.2" text-anchor="start" fill="#000" stroke="#000" stroke-width="0.1">Fold Enrichment</text>
<defs><linearGradient id="civ" x1="0" y1="1" x2="0" y2="0"><stop offset="0.0" stop-color="#00224e"/><stop offset="0.1" stop-color="#083370"/><stop offset="0.2" stop-color="#35456c"/><stop offset="0.3" stop-color="#4f576c"/><stop offset="0.4" stop-color="#666970"/><stop offset="0.5" stop-color="#7d7c78"/><stop offset="0.6" stop-color="#948e77"/><stop offset="0.7" stop-color="#aea371"/><stop offset="0.8" stop-color="#c8b866"/><stop offset="0.9" stop-color="#e5cf52"/><stop offset="1.0" stop-color="#fee838"/></linearGradient></defs>
<rect x="625.9" y="85.1" width="9.9" height="46.6" fill="url(#civ)" stroke="none" stroke-width="0"/>
<line x1="626.4" y1="88.8" x2="628.3" y2="88.8" stroke="#fff" stroke-width="0.5"/>
<line x1="634.1" y1="88.8" x2="636" y2="88.8" stroke="#fff" stroke-width="0.5"/>
<text x="637.8" y="91.7" font-size="8.2" text-anchor="start" fill="#1a1a1a" stroke="#1a1a1a" stroke-width="0.1">3.5</text>
<line x1="626.4" y1="99.5" x2="628.3" y2="99.5" stroke="#fff" stroke-width="0.5"/>
<line x1="634.1" y1="99.5" x2="636" y2="99.5" stroke="#fff" stroke-width="0.5"/>
<text x="637.8" y="102.4" font-size="8.2" text-anchor="start" fill="#1a1a1a" stroke="#1a1a1a" stroke-width="0.1">3.0</text>
<line x1="626.4" y1="110" x2="628.3" y2="110" stroke="#fff" stroke-width="0.5"/>
<line x1="634.1" y1="110" x2="636" y2="110" stroke="#fff" stroke-width="0.5"/>
<text x="637.8" y="112.9" font-size="8.2" text-anchor="start" fill="#1a1a1a" stroke="#1a1a1a" stroke-width="0.1">2.5</text>
<line x1="626.4" y1="120.5" x2="628.3" y2="120.5" stroke="#fff" stroke-width="0.5"/>
<line x1="634.1" y1="120.5" x2="636" y2="120.5" stroke="#fff" stroke-width="0.5"/>
<text x="637.8" y="123.4" font-size="8.2" text-anchor="start" fill="#1a1a1a" stroke="#1a1a1a" stroke-width="0.1">2.0</text>
<line x1="626.4" y1="130.8" x2="628.3" y2="130.8" stroke="#fff" stroke-width="0.5"/>
<line x1="634.1" y1="130.8" x2="636" y2="130.8" stroke="#fff" stroke-width="0.5"/>
<text x="637.8" y="133.7" font-size="8.2" text-anchor="start" fill="#1a1a1a" stroke="#1a1a1a" stroke-width="0.1">1.5</text>
<text x="-0.8" y="194.4" font-size="9.6" text-anchor="start" fill="#000" stroke="#000" stroke-width="0.1" font-weight="bold">e</text>
<line x1="51.2" y1="200.75" x2="51.2" y2="315.8" stroke="#444" stroke-width="0.9"/>
<line x1="48.2" y1="315.8" x2="149.5" y2="315.8" stroke="#444" stroke-width="0.9"/>
<text x="46.7" y="318.8" font-size="8.6" text-anchor="end" fill="#1a1a1a" stroke="#1a1a1a" stroke-width="0.1">0</text>
<line x1="48.2" y1="287.16" x2="51.2" y2="287.16" stroke="#444" stroke-width="0.9"/>
<text x="46.7" y="290.16" font-size="8.6" text-anchor="end" fill="#1a1a1a" stroke="#1a1a1a" stroke-width="0.1">5</text>
<line x1="48.2" y1="258.52" x2="51.2" y2="258.52" stroke="#444" stroke-width="0.9"/>
<text x="46.7" y="261.52" font-size="8.6" text-anchor="end" fill="#1a1a1a" stroke="#1a1a1a" stroke-width="0.1">10</text>
<line x1="48.2" y1="229.89" x2="51.2" y2="229.89" stroke="#444" stroke-width="0.9"/>
<text x="46.7" y="232.89" font-size="8.6" text-anchor="end" fill="#1a1a1a" stroke="#1a1a1a" stroke-width="0.1">15</text>
<line x1="48.2" y1="201.25" x2="51.2" y2="201.25" stroke="#444" stroke-width="0.9"/>
<text x="46.7" y="204.25" font-size="8.6" text-anchor="end" fill="#1a1a1a" stroke="#1a1a1a" stroke-width="0.1">20</text>
<text x="24.5" y="257.9" font-size="9.7" text-anchor="middle" fill="#000" stroke="#000" stroke-width="0.1" transform="rotate(-90 24.5 257.9)">Relative value</text>
<rect x="66.15" y="313.8" width="26.3" height="2" fill="#fff" stroke="#333" stroke-width="0.8"/>
<line x1="79.3" y1="315.8" x2="79.3" y2="311.33" stroke="#444" stroke-width="0.75"/>
<line x1="72.6" y1="315.8" x2="86" y2="315.8" stroke="#444" stroke-width="0.75"/>
<line x1="72.6" y1="311.33" x2="86" y2="311.33" stroke="#444" stroke-width="0.75"/>
<circle cx="66.5" cy="315.5" r="1.25" fill="#fff" stroke="#222" stroke-width="0.7"/>
<circle cx="70.5" cy="315.5" r="1.25" fill="#fff" stroke="#222" stroke-width="0.7"/>
<circle cx="75.5" cy="315.5" r="1.25" fill="#fff" stroke="#222" stroke-width="0.7"/>
<circle cx="79.5" cy="315.5" r="1.25" fill="#fff" stroke="#222" stroke-width="0.7"/>
<circle cx="83.5" cy="315.5" r="1.25" fill="#fff" stroke="#222" stroke-width="0.7"/>
<circle cx="87.5" cy="315.5" r="1.25" fill="#fff" stroke="#222" stroke-width="0.7"/>
<circle cx="91.5" cy="315.5" r="1.25" fill="#fff" stroke="#222" stroke-width="0.7"/>
<circle cx="79.5" cy="307.5" r="1.25" fill="#fff" stroke="#222" stroke-width="0.7"/>
<circle cx="70.5" cy="313.5" r="1.25" fill="#fff" stroke="#222" stroke-width="0.7"/>
<line x1="79.3" y1="315.8" x2="79.3" y2="318.4" stroke="#444" stroke-width="0.9"/>
<rect x="107.25" y="254.23" width="26.3" height="61.57" fill="#fff" stroke="#333" stroke-width="0.8"/>
<line x1="120.4" y1="273.99" x2="120.4" y2="232.75" stroke="#444" stroke-width="0.75"/>
<line x1="113.7" y1="273.99" x2="127.1" y2="273.99" stroke="#444" stroke-width="0.75"/>
<line x1="113.7" y1="232.75" x2="127.1" y2="232.75" stroke="#444" stroke-width="0.75"/>
<circle cx="121.5" cy="220.5" r="1.25" fill="#fff" stroke="#222" stroke-width="0.7"/>
<circle cx="121.5" cy="225.5" r="1.25" fill="#fff" stroke="#222" stroke-width="0.7"/>
<circle cx="121.5" cy="236.5" r="1.25" fill="#fff" stroke="#222" stroke-width="0.7"/>
<circle cx="121.5" cy="244.5" r="1.25" fill="#fff" stroke="#222" stroke-width="0.7"/>
<circle cx="115.5" cy="263.5" r="1.25" fill="#fff" stroke="#222" stroke-width="0.7"/>
<circle cx="120.5" cy="264.5" r="1.25" fill="#fff" stroke="#222" stroke-width="0.7"/>
<circle cx="121.5" cy="268.5" r="1.25" fill="#fff" stroke="#222" stroke-width="0.7"/>
<circle cx="115.5" cy="274.5" r="1.25" fill="#fff" stroke="#222" stroke-width="0.7"/>
<circle cx="126.5" cy="273.5" r="1.25" fill="#fff" stroke="#222" stroke-width="0.7"/>
<line x1="120.4" y1="315.8" x2="120.4" y2="318.4" stroke="#444" stroke-width="0.9"/>
<text x="80.1" y="328.9" font-size="9.6" text-anchor="middle" fill="#000" stroke="#000" stroke-width="0.1">Rye</text>
<text x="120.4" y="328.9" font-size="9.4" text-anchor="middle" fill="#000" stroke="#000" stroke-width="0.1">1RS.1BL</text>
<text x="99.6" y="344.1" font-size="9.3" text-anchor="middle" fill="#000" stroke="#000" stroke-width="0.1" font-style="italic">SECCE1Rv1G0002890</text>
<path d="M77.2 211V209.6H129.8V211" fill="none" stroke="#333" stroke-width="0.6"/>
<text x="105.8" y="205.3" font-size="8.4" text-anchor="middle" fill="#000" stroke="#000" stroke-width="0.1"><tspan font-style="italic">p</tspan> = 1.9×10<tspan style="font-size:54%" dy="-0.72em">−5</tspan></text>
<line x1="221" y1="200" x2="221" y2="315.4" stroke="#444" stroke-width="0.9"/>
<line x1="218" y1="315.4" x2="319.3" y2="315.4" stroke="#444" stroke-width="0.9"/>
<text x="216.5" y="318.4" font-size="8.6" text-anchor="end" fill="#1a1a1a" stroke="#1a1a1a" stroke-width="0.1">0</text>
<line x1="218" y1="292.42" x2="221" y2="292.42" stroke="#444" stroke-width="0.9"/>
<text x="216.5" y="295.42" font-size="8.6" text-anchor="end" fill="#1a1a1a" stroke="#1a1a1a" stroke-width="0.1">2</text>
<line x1="218" y1="269.44" x2="221" y2="269.44" stroke="#444" stroke-width="0.9"/>
<text x="216.5" y="272.44" font-size="8.6" text-anchor="end" fill="#1a1a1a" stroke="#1a1a1a" stroke-width="0.1">4</text>
<line x1="218" y1="246.46" x2="221" y2="246.46" stroke="#444" stroke-width="0.9"/>
<text x="216.5" y="249.46" font-size="8.6" text-anchor="end" fill="#1a1a1a" stroke="#1a1a1a" stroke-width="0.1">6</text>
<line x1="218" y1="223.48" x2="221" y2="223.48" stroke="#444" stroke-width="0.9"/>
<text x="216.5" y="226.48" font-size="8.6" text-anchor="end" fill="#1a1a1a" stroke="#1a1a1a" stroke-width="0.1">8</text>
<line x1="218" y1="200.5" x2="221" y2="200.5" stroke="#444" stroke-width="0.9"/>
<text x="216.5" y="203.5" font-size="8.6" text-anchor="end" fill="#1a1a1a" stroke="#1a1a1a" stroke-width="0.1">10</text>
<text x="196.3" y="257.9" font-size="9.7" text-anchor="middle" fill="#000" stroke="#000" stroke-width="0.1" transform="rotate(-90 196.3 257.9)">Relative value</text>
<rect x="235.95" y="312.53" width="26.3" height="2.87" fill="#fff" stroke="#333" stroke-width="0.8"/>
<line x1="249.1" y1="315.4" x2="249.1" y2="307.36" stroke="#444" stroke-width="0.75"/>
<line x1="242.4" y1="315.4" x2="255.8" y2="315.4" stroke="#444" stroke-width="0.75"/>
<line x1="242.4" y1="307.36" x2="255.8" y2="307.36" stroke="#444" stroke-width="0.75"/>
<circle cx="238.5" cy="315.5" r="1.25" fill="#fff" stroke="#222" stroke-width="0.7"/>
<circle cx="241.5" cy="315.5" r="1.25" fill="#fff" stroke="#222" stroke-width="0.7"/>
<circle cx="245.5" cy="315.5" r="1.25" fill="#fff" stroke="#222" stroke-width="0.7"/>
<circle cx="249.5" cy="315.5" r="1.25" fill="#fff" stroke="#222" stroke-width="0.7"/>
<circle cx="252.5" cy="315.5" r="1.25" fill="#fff" stroke="#222" stroke-width="0.7"/>
<circle cx="256.5" cy="315.5" r="1.25" fill="#fff" stroke="#222" stroke-width="0.7"/>
<circle cx="260.5" cy="315.5" r="1.25" fill="#fff" stroke="#222" stroke-width="0.7"/>
<circle cx="246.5" cy="303.5" r="1.25" fill="#fff" stroke="#222" stroke-width="0.7"/>
<circle cx="251.5" cy="303.5" r="1.25" fill="#fff" stroke="#222" stroke-width="0.7"/>
<circle cx="246.5" cy="311.5" r="1.25" fill="#fff" stroke="#222" stroke-width="0.7"/>
<line x1="249.1" y1="315.4" x2="249.1" y2="318" stroke="#444" stroke-width="0.9"/>
<rect x="277.25" y="253.93" width="26.3" height="61.47" fill="#fff" stroke="#333" stroke-width="0.8"/>
<line x1="290.4" y1="274.04" x2="290.4" y2="232.67" stroke="#444" stroke-width="0.75"/>
<line x1="283.7" y1="274.04" x2="297.1" y2="274.04" stroke="#444" stroke-width="0.75"/>
<line x1="283.7" y1="232.67" x2="297.1" y2="232.67" stroke="#444" stroke-width="0.75"/>
<circle cx="290.5" cy="216.5" r="1.25" fill="#fff" stroke="#222" stroke-width="0.7"/>
<circle cx="290.5" cy="228.5" r="1.25" fill="#fff" stroke="#222" stroke-width="0.7"/>
<circle cx="290.5" cy="248.5" r="1.25" fill="#fff" stroke="#222" stroke-width="0.7"/>
<circle cx="284.5" cy="255.5" r="1.25" fill="#fff" stroke="#222" stroke-width="0.7"/>
<circle cx="290.5" cy="255.5" r="1.25" fill="#fff" stroke="#222" stroke-width="0.7"/>
<circle cx="296.5" cy="254.5" r="1.25" fill="#fff" stroke="#222" stroke-width="0.7"/>
<circle cx="284.5" cy="271.5" r="1.25" fill="#fff" stroke="#222" stroke-width="0.7"/>
<circle cx="296.5" cy="271.5" r="1.25" fill="#fff" stroke="#222" stroke-width="0.7"/>
<circle cx="290.5" cy="277.5" r="1.25" fill="#fff" stroke="#222" stroke-width="0.7"/>
<line x1="290.4" y1="315.4" x2="290.4" y2="318" stroke="#444" stroke-width="0.9"/>
<text x="249.9" y="328.9" font-size="9.6" text-anchor="middle" fill="#000" stroke="#000" stroke-width="0.1">Rye</text>
<text x="290.4" y="328.9" font-size="9.4" text-anchor="middle" fill="#000" stroke="#000" stroke-width="0.1">1RS.1BL</text>
<text x="269.4" y="344.1" font-size="9.3" text-anchor="middle" fill="#000" stroke="#000" stroke-width="0.1" font-style="italic">SECCE1Rv1G0003770</text>
<path d="M247.2 209.6V208.2H299.3V209.6" fill="none" stroke="#333" stroke-width="0.6"/>
<text x="272.95" y="205.3" font-size="8.4" text-anchor="middle" fill="#000" stroke="#000" stroke-width="0.1"><tspan font-style="italic">p</tspan> = 1.4×10<tspan style="font-size:54%" dy="-0.72em">−5</tspan></text>
<line x1="393.7" y1="200" x2="393.7" y2="314.5" stroke="#444" stroke-width="0.9"/>
<line x1="390.7" y1="314.5" x2="492" y2="314.5" stroke="#444" stroke-width="0.9"/>
<text x="389.2" y="317.5" font-size="8.6" text-anchor="end" fill="#1a1a1a" stroke="#1a1a1a" stroke-width="0.1">0.0</text>
<line x1="390.7" y1="291.7" x2="393.7" y2="291.7" stroke="#444" stroke-width="0.9"/>
<text x="389.2" y="294.7" font-size="8.6" text-anchor="end" fill="#1a1a1a" stroke="#1a1a1a" stroke-width="0.1">0.5</text>
<line x1="390.7" y1="268.9" x2="393.7" y2="268.9" stroke="#444" stroke-width="0.9"/>
<text x="389.2" y="271.9" font-size="8.6" text-anchor="end" fill="#1a1a1a" stroke="#1a1a1a" stroke-width="0.1">1.0</text>
<line x1="390.7" y1="246.1" x2="393.7" y2="246.1" stroke="#444" stroke-width="0.9"/>
<text x="389.2" y="249.1" font-size="8.6" text-anchor="end" fill="#1a1a1a" stroke="#1a1a1a" stroke-width="0.1">1.5</text>
<line x1="390.7" y1="223.3" x2="393.7" y2="223.3" stroke="#444" stroke-width="0.9"/>
<text x="389.2" y="226.3" font-size="8.6" text-anchor="end" fill="#1a1a1a" stroke="#1a1a1a" stroke-width="0.1">2.0</text>
<line x1="390.7" y1="200.5" x2="393.7" y2="200.5" stroke="#444" stroke-width="0.9"/>
<text x="389.2" y="203.5" font-size="8.6" text-anchor="end" fill="#1a1a1a" stroke="#1a1a1a" stroke-width="0.1">2.5</text>
<text x="368.5" y="257.9" font-size="9.7" text-anchor="middle" fill="#000" stroke="#000" stroke-width="0.1" transform="rotate(-90 368.5 257.9)">Relative value</text>
<rect x="409.35" y="263.88" width="26.3" height="50.62" fill="#d4d4d4" stroke="#333" stroke-width="0.8"/>
<line x1="422.5" y1="287.14" x2="422.5" y2="238.8" stroke="#444" stroke-width="0.75"/>
<line x1="415.8" y1="287.14" x2="429.2" y2="287.14" stroke="#444" stroke-width="0.75"/>
<line x1="415.8" y1="238.8" x2="429.2" y2="238.8" stroke="#444" stroke-width="0.75"/>
<circle cx="422.5" cy="223.5" r="1.25" fill="#fff" stroke="#222" stroke-width="0.7"/>
<circle cx="428.5" cy="221.5" r="1.25" fill="#fff" stroke="#222" stroke-width="0.7"/>
<circle cx="416.5" cy="267.5" r="1.25" fill="#fff" stroke="#222" stroke-width="0.7"/>
<circle cx="422.5" cy="267.5" r="1.25" fill="#fff" stroke="#222" stroke-width="0.7"/>
<circle cx="422.5" cy="271.5" r="1.25" fill="#fff" stroke="#222" stroke-width="0.7"/>
<circle cx="428.5" cy="270.5" r="1.25" fill="#fff" stroke="#222" stroke-width="0.7"/>
<circle cx="422.5" cy="274.5" r="1.25" fill="#fff" stroke="#222" stroke-width="0.7"/>
<circle cx="416.5" cy="286.5" r="1.25" fill="#fff" stroke="#222" stroke-width="0.7"/>
<circle cx="428.5" cy="286.5" r="1.25" fill="#fff" stroke="#222" stroke-width="0.7"/>
<line x1="422.5" y1="314.5" x2="422.5" y2="317.1" stroke="#444" stroke-width="0.9"/>
<rect x="451.15" y="313.59" width="26.3" height="0.91" fill="#fff" stroke="#333" stroke-width="0.8"/>
<line x1="464.3" y1="314.04" x2="464.3" y2="313.13" stroke="#444" stroke-width="0.75"/>
<line x1="457.6" y1="314.04" x2="471" y2="314.04" stroke="#444" stroke-width="0.75"/>
<line x1="457.6" y1="313.13" x2="471" y2="313.13" stroke="#444" stroke-width="0.75"/>
<circle cx="452.5" cy="313.5" r="1.25" fill="#fff" stroke="#222" stroke-width="0.7"/>
<circle cx="455.5" cy="313.5" r="1.25" fill="#fff" stroke="#222" stroke-width="0.7"/>
<circle cx="459.5" cy="313.5" r="1.25" fill="#fff" stroke="#222" stroke-width="0.7"/>
<circle cx="462.5" cy="313.5" r="1.25" fill="#fff" stroke="#222" stroke-width="0.7"/>
<circle cx="465.5" cy="313.5" r="1.25" fill="#fff" stroke="#222" stroke-width="0.7"/>
<circle cx="469.5" cy="313.5" r="1.25" fill="#fff" stroke="#222" stroke-width="0.7"/>
<circle cx="472.5" cy="313.5" r="1.25" fill="#fff" stroke="#222" stroke-width="0.7"/>
<circle cx="476.5" cy="313.5" r="1.25" fill="#fff" stroke="#222" stroke-width="0.7"/>
<line x1="464.3" y1="314.5" x2="464.3" y2="317.1" stroke="#444" stroke-width="0.9"/>
<text x="423.3" y="328.9" font-size="9.6" text-anchor="middle" fill="#000" stroke="#000" stroke-width="0.1">Rye</text>
<text x="464.3" y="328.9" font-size="9.4" text-anchor="middle" fill="#000" stroke="#000" stroke-width="0.1">1RS.1BL</text>
<text x="442.1" y="344.1" font-size="9.3" text-anchor="middle" fill="#000" stroke="#000" stroke-width="0.1" font-style="italic">SECCE1Rv1G0021710</text>
<path d="M421 209.8V208.4H472.7V209.8" fill="none" stroke="#333" stroke-width="0.6"/>
<text x="446.85" y="205.3" font-size="8.4" text-anchor="middle" fill="#000" stroke="#000" stroke-width="0.1"><tspan font-style="italic">p</tspan> = 0.0002</text>
<line x1="563.9" y1="199.7" x2="563.9" y2="315.6" stroke="#444" stroke-width="0.9"/>
<line x1="560.9" y1="315.6" x2="662.2" y2="315.6" stroke="#444" stroke-width="0.9"/>
<text x="559.4" y="318.6" font-size="8.6" text-anchor="end" fill="#1a1a1a" stroke="#1a1a1a" stroke-width="0.1">0</text>
<line x1="560.9" y1="286.75" x2="563.9" y2="286.75" stroke="#444" stroke-width="0.9"/>
<text x="559.4" y="289.75" font-size="8.6" text-anchor="end" fill="#1a1a1a" stroke="#1a1a1a" stroke-width="0.1">1</text>
<line x1="560.9" y1="257.9" x2="563.9" y2="257.9" stroke="#444" stroke-width="0.9"/>
<text x="559.4" y="260.9" font-size="8.6" text-anchor="end" fill="#1a1a1a" stroke="#1a1a1a" stroke-width="0.1">2</text>
<line x1="560.9" y1="229.05" x2="563.9" y2="229.05" stroke="#444" stroke-width="0.9"/>
<text x="559.4" y="232.05" font-size="8.6" text-anchor="end" fill="#1a1a1a" stroke="#1a1a1a" stroke-width="0.1">3</text>
<line x1="560.9" y1="200.2" x2="563.9" y2="200.2" stroke="#444" stroke-width="0.9"/>
<text x="559.4" y="203.2" font-size="8.6" text-anchor="end" fill="#1a1a1a" stroke="#1a1a1a" stroke-width="0.1">4</text>
<text x="543.9" y="257.9" font-size="9.7" text-anchor="middle" fill="#000" stroke="#000" stroke-width="0.1" transform="rotate(-90 543.9 257.9)">Relative value</text>
<rect x="578.25" y="260.21" width="26.3" height="55.39" fill="#d4d4d4" stroke="#333" stroke-width="0.8"/>
<line x1="591.4" y1="290.5" x2="591.4" y2="227.61" stroke="#444" stroke-width="0.75"/>
<line x1="584.7" y1="290.5" x2="598.1" y2="290.5" stroke="#444" stroke-width="0.75"/>
<line x1="584.7" y1="227.61" x2="598.1" y2="227.61" stroke="#444" stroke-width="0.75"/>
<circle cx="591.5" cy="215.5" r="1.25" fill="#fff" stroke="#222" stroke-width="0.7"/>
<circle cx="585.5" cy="235.5" r="1.25" fill="#fff" stroke="#222" stroke-width="0.7"/>
<circle cx="591.5" cy="236.5" r="1.25" fill="#fff" stroke="#222" stroke-width="0.7"/>
<circle cx="591.5" cy="243.5" r="1.25" fill="#fff" stroke="#222" stroke-width="0.7"/>
<circle cx="591.5" cy="246.5" r="1.25" fill="#fff" stroke="#222" stroke-width="0.7"/>
<circle cx="591.5" cy="265.5" r="1.25" fill="#fff" stroke="#222" stroke-width="0.7"/>
<circle cx="585.5" cy="287.5" r="1.25" fill="#fff" stroke="#222" stroke-width="0.7"/>
<circle cx="597.5" cy="288.5" r="1.25" fill="#fff" stroke="#222" stroke-width="0.7"/>
<circle cx="591.5" cy="314.5" r="1.25" fill="#fff" stroke="#222" stroke-width="0.7"/>
<line x1="591.4" y1="315.6" x2="591.4" y2="318.2" stroke="#444" stroke-width="0.9"/>
<rect x="620.35" y="314.45" width="26.3" height="1.15" fill="#fff" stroke="#333" stroke-width="0.8"/>
<line x1="633.5" y1="315.02" x2="633.5" y2="313.87" stroke="#444" stroke-width="0.75"/>
<line x1="626.8" y1="315.02" x2="640.2" y2="315.02" stroke="#444" stroke-width="0.75"/>
<line x1="626.8" y1="313.87" x2="640.2" y2="313.87" stroke="#444" stroke-width="0.75"/>
<circle cx="621.5" cy="314.5" r="1.25" fill="#fff" stroke="#222" stroke-width="0.7"/>
<circle cx="624.5" cy="314.5" r="1.25" fill="#fff" stroke="#222" stroke-width="0.7"/>
<circle cx="628.5" cy="314.5" r="1.25" fill="#fff" stroke="#222" stroke-width="0.7"/>
<circle cx="631.5" cy="314.5" r="1.25" fill="#fff" stroke="#222" stroke-width="0.7"/>
<circle cx="635.5" cy="314.5" r="1.25" fill="#fff" stroke="#222" stroke-width="0.7"/>
<circle cx="638.5" cy="314.5" r="1.25" fill="#fff" stroke="#222" stroke-width="0.7"/>
<circle cx="642.5" cy="314.5" r="1.25" fill="#fff" stroke="#222" stroke-width="0.7"/>
<circle cx="646.5" cy="314.5" r="1.25" fill="#fff" stroke="#222" stroke-width="0.7"/>
<line x1="633.5" y1="315.6" x2="633.5" y2="318.2" stroke="#444" stroke-width="0.9"/>
<text x="592.2" y="328.9" font-size="9.6" text-anchor="middle" fill="#000" stroke="#000" stroke-width="0.1">Rye</text>
<text x="632" y="328.9" font-size="9.4" text-anchor="middle" fill="#000" stroke="#000" stroke-width="0.1">1RS.1BL</text>
<text x="607" y="344.1" font-size="9.3" text-anchor="middle" fill="#000" stroke="#000" stroke-width="0.1" font-style="italic">SECCE1Rv1G0017850</text>
<path d="M589.8 209.8V208.4H642.6V209.8" fill="none" stroke="#333" stroke-width="0.6"/>
<text x="616.2" y="205.3" font-size="8.4" text-anchor="middle" fill="#000" stroke="#000" stroke-width="0.1"><tspan font-style="italic">p</tspan> = 0.0008</text>
<text x="-0.6" y="371.5" font-size="9.6" text-anchor="start" fill="#000" stroke="#000" stroke-width="0.1" font-weight="bold">f</text>
<line x1="33.75" y1="403.25" x2="121.3" y2="403.25" stroke="#ebebeb" stroke-width="0.6"/>
<line x1="33.75" y1="425.25" x2="121.3" y2="425.25" stroke="#ebebeb" stroke-width="0.6"/>
<line x1="33.75" y1="447.25" x2="121.3" y2="447.25" stroke="#ebebeb" stroke-width="0.6"/>
<line x1="33.75" y1="469.25" x2="121.3" y2="469.25" stroke="#ebebeb" stroke-width="0.6"/>
<line x1="33.75" y1="491.25" x2="121.3" y2="491.25" stroke="#ebebeb" stroke-width="0.6"/>
<line x1="57.6" y1="385" x2="57.6" y2="496.3" stroke="#ebebeb" stroke-width="0.6"/>
<line x1="96.8" y1="385" x2="96.8" y2="496.3" stroke="#ebebeb" stroke-width="0.6"/>
<rect x="33.75" y="385" width="87.55" height="111.3" fill="none" stroke="#333333" stroke-width="0.7"/>
<line x1="31.75" y1="403.25" x2="33.75" y2="403.25" stroke="#333" stroke-width="0.6"/>
<text x="30.25" y="406.15" font-size="8.4" text-anchor="end" fill="#222" stroke="#222" stroke-width="0.1">35</text>
<line x1="31.75" y1="425.25" x2="33.75" y2="425.25" stroke="#333" stroke-width="0.6"/>
<text x="30.25" y="428.15" font-size="8.4" text-anchor="end" fill="#222" stroke="#222" stroke-width="0.1">30</text>
<line x1="31.75" y1="447.25" x2="33.75" y2="447.25" stroke="#333" stroke-width="0.6"/>
<text x="30.25" y="450.15" font-size="8.4" text-anchor="end" fill="#222" stroke="#222" stroke-width="0.1">25</text>
<line x1="31.75" y1="469.25" x2="33.75" y2="469.25" stroke="#333" stroke-width="0.6"/>
<text x="30.25" y="472.15" font-size="8.4" text-anchor="end" fill="#222" stroke="#222" stroke-width="0.1">20</text>
<line x1="31.75" y1="491.25" x2="33.75" y2="491.25" stroke="#333" stroke-width="0.6"/>
<text x="30.25" y="494.15" font-size="8.4" text-anchor="end" fill="#222" stroke="#222" stroke-width="0.1">15</text>
<line x1="57.6" y1="496.3" x2="57.6" y2="498.3" stroke="#333" stroke-width="0.6"/>
<line x1="96.8" y1="496.3" x2="96.8" y2="498.3" stroke="#333" stroke-width="0.6"/>
<text x="14.7" y="455.6" font-size="9.4" text-anchor="middle" fill="#000" stroke="#000" stroke-width="0.1" transform="rotate(-90 14.7 455.6)">Percentage of expressed genes(%)</text>
<line x1="57.6" y1="465" x2="57.6" y2="466.2" stroke="#333" stroke-width="0.6"/>
<line x1="57.6" y1="480" x2="57.6" y2="484.5" stroke="#333" stroke-width="0.6"/>
<rect x="47.6" y="466.2" width="20" height="13.8" fill="none" stroke="#333" stroke-width="0.6"/>
<line x1="47.6" y1="473" x2="67.6" y2="473" stroke="#333" stroke-width="0.96"/>
<line x1="96.7" y1="404.3" x2="96.7" y2="407.5" stroke="#333" stroke-width="0.6"/>
<line x1="96.7" y1="414.5" x2="96.7" y2="415.5" stroke="#333" stroke-width="0.6"/>
<rect x="86.3" y="407.5" width="20.8" height="7" fill="none" stroke="#333" stroke-width="0.6"/>
<line x1="86.3" y1="413.8" x2="107.1" y2="413.8" stroke="#333" stroke-width="0.96"/>
<circle cx="50" cy="466.7" r="1.5" fill="#555" stroke="none" stroke-width="0.5" fill-opacity="0.6"/>
<circle cx="62" cy="465" r="1.5" fill="#555" stroke="none" stroke-width="0.5" fill-opacity="0.6"/>
<circle cx="58.3" cy="479.3" r="1.5" fill="#555" stroke="none" stroke-width="0.5" fill-opacity="0.6"/>
<circle cx="60.8" cy="484.5" r="1.5" fill="#555" stroke="none" stroke-width="0.5" fill-opacity="0.6"/>
<circle cx="91.3" cy="404.3" r="1.5" fill="#555" stroke="none" stroke-width="0.5" fill-opacity="0.6"/>
<circle cx="91.3" cy="414.3" r="1.5" fill="#555" stroke="none" stroke-width="0.5" fill-opacity="0.6"/>
<circle cx="95.8" cy="414.3" r="1.5" fill="#555" stroke="none" stroke-width="0.5" fill-opacity="0.6"/>
<circle cx="102.5" cy="407.5" r="1.5" fill="#555" stroke="none" stroke-width="0.5" fill-opacity="0.6"/>
<circle cx="105" cy="407.5" r="1.5" fill="#555" stroke="none" stroke-width="0.5" fill-opacity="0.6"/>
<circle cx="103.3" cy="415.7" r="1.5" fill="#555" stroke="none" stroke-width="0.5" fill-opacity="0.6"/>
<circle cx="99.5" cy="414.3" r="1.5" fill="#555" stroke="none" stroke-width="0.5" fill-opacity="0.6"/>
<text x="56.8" y="494.5" font-size="7.8" text-anchor="middle" fill="#1a1a1a" stroke="#1a1a1a" stroke-width="0.1">n = 4</text>
<text x="97" y="494.5" font-size="7.8" text-anchor="middle" fill="#1a1a1a" stroke="#1a1a1a" stroke-width="0.1">n = 7</text>
<path d="M57 399.4V397.6H97.7V399.4" fill="none" stroke="#333" stroke-width="0.6"/>
<text x="56" y="394.9" font-size="7.6" text-anchor="start" fill="#1a1a1a" stroke="#1a1a1a" stroke-width="0.1"><tspan font-style="italic">p</tspan> = 2.823×10<tspan style="font-size:54%" dy="-0.72em">−5</tspan></text>
<text x="0" y="0" font-size="8.98" text-anchor="end" fill="#222" stroke="#222" stroke-width="0.1" transform="translate(58 501) scale(1.08 1) rotate(-45) translate(0 6.47)">3D.3E</text>
<text x="0" y="0" font-size="8.98" text-anchor="end" fill="#222" stroke="#222" stroke-width="0.1" transform="translate(97.2 501) scale(1.08 1) rotate(-45) translate(0 6.47)"><tspan font-style="italic">Th. ponticum</tspan>.3E</text>
<text x="141.6" y="369.4" font-size="9.6" text-anchor="start" fill="#000" stroke="#000" stroke-width="0.1" font-weight="bold">g</text>
<line x1="171.8" y1="491.25" x2="270.5" y2="491.25" stroke="#f0f0f0" stroke-width="0.45"/>
<line x1="171.8" y1="466.25" x2="270.5" y2="466.25" stroke="#f0f0f0" stroke-width="0.45"/>
<line x1="171.8" y1="441.25" x2="270.5" y2="441.25" stroke="#f0f0f0" stroke-width="0.45"/>
<line x1="171.8" y1="416.25" x2="270.5" y2="416.25" stroke="#f0f0f0" stroke-width="0.45"/>
<line x1="171.8" y1="391.25" x2="270.5" y2="391.25" stroke="#f0f0f0" stroke-width="0.45"/>
<line x1="171.8" y1="403.75" x2="270.5" y2="403.75" stroke="#ebebeb" stroke-width="0.6"/>
<line x1="171.8" y1="428.75" x2="270.5" y2="428.75" stroke="#ebebeb" stroke-width="0.6"/>
<line x1="171.8" y1="453.75" x2="270.5" y2="453.75" stroke="#ebebeb" stroke-width="0.6"/>
<line x1="171.8" y1="478.75" x2="270.5" y2="478.75" stroke="#ebebeb" stroke-width="0.6"/>
<line x1="198.3" y1="386.3" x2="198.3" y2="496.3" stroke="#ebebeb" stroke-width="0.6"/>
<line x1="243.3" y1="386.3" x2="243.3" y2="496.3" stroke="#ebebeb" stroke-width="0.6"/>
<rect x="171.8" y="386.3" width="98.7" height="110" fill="none" stroke="#333333" stroke-width="0.7"/>
<line x1="169.8" y1="403.75" x2="171.8" y2="403.75" stroke="#333" stroke-width="0.6"/>
<text x="168.3" y="406.65" font-size="8.4" text-anchor="end" fill="#222" stroke="#222" stroke-width="0.1">40</text>
<line x1="169.8" y1="428.75" x2="171.8" y2="428.75" stroke="#333" stroke-width="0.6"/>
<text x="168.3" y="431.65" font-size="8.4" text-anchor="end" fill="#222" stroke="#222" stroke-width="0.1">30</text>
<line x1="169.8" y1="453.75" x2="171.8" y2="453.75" stroke="#333" stroke-width="0.6"/>
<text x="168.3" y="456.65" font-size="8.4" text-anchor="end" fill="#222" stroke="#222" stroke-width="0.1">20</text>
<line x1="169.8" y1="478.75" x2="171.8" y2="478.75" stroke="#333" stroke-width="0.6"/>
<text x="168.3" y="481.65" font-size="8.4" text-anchor="end" fill="#222" stroke="#222" stroke-width="0.1">10</text>
<line x1="198.3" y1="496.3" x2="198.3" y2="498.3" stroke="#333" stroke-width="0.6"/>
<line x1="243.3" y1="496.3" x2="243.3" y2="498.3" stroke="#333" stroke-width="0.6"/>
<text x="151.2" y="455.8" font-size="9.4" text-anchor="middle" fill="#000" stroke="#000" stroke-width="0.1" transform="rotate(-90 151.2 455.8)">Percentage of expressed genes(%)</text>
<rect x="165.4" y="373.6" width="10" height="8" fill="none" stroke="#F8766D" stroke-width="0.7"/>
<line x1="165.4" y1="377.6" x2="175.4" y2="377.6" stroke="#F8766D" stroke-width="0.7"/>
<line x1="170.4" y1="371.6" x2="170.4" y2="373.6" stroke="#F8766D" stroke-width="0.7"/>
<line x1="170.4" y1="381.6" x2="170.4" y2="383.6" stroke="#F8766D" stroke-width="0.7"/>
<text x="178.8" y="380.8" font-size="8.6" text-anchor="start" fill="#1a1a1a" stroke="#1a1a1a" stroke-width="0.1">Specific</text>
<rect x="215.8" y="373.6" width="10" height="8" fill="none" stroke="#00BFC4" stroke-width="0.7"/>
<line x1="215.8" y1="377.6" x2="225.8" y2="377.6" stroke="#00BFC4" stroke-width="0.7"/>
<line x1="220.8" y1="371.6" x2="220.8" y2="373.6" stroke="#00BFC4" stroke-width="0.7"/>
<line x1="220.8" y1="381.6" x2="220.8" y2="383.6" stroke="#00BFC4" stroke-width="0.7"/>
<text x="228.4" y="380.8" font-size="8.3" text-anchor="start" fill="#1a1a1a" stroke="#1a1a1a" stroke-width="0.1">Conserved</text>
<text x="174.9" y="394.5" font-size="8.2" text-anchor="start" fill="#1a1a1a" stroke="#1a1a1a" stroke-width="0.1">3E vs. CS</text>
<line x1="190.7" y1="471" x2="190.7" y2="472" stroke="#F8766D" stroke-width="0.6"/>
<line x1="190.7" y1="474.5" x2="190.7" y2="475.5" stroke="#F8766D" stroke-width="0.6"/>
<rect x="183.8" y="472" width="13.8" height="2.5" fill="none" stroke="#F8766D" stroke-width="0.6"/>
<line x1="183.8" y1="473" x2="197.6" y2="473" stroke="#F8766D" stroke-width="0.96"/>
<circle cx="192.05" cy="473.55" r="0.9" fill="#F8766D" stroke="none" stroke-width="0.5" fill-opacity="0.6"/>
<circle cx="190.49" cy="473.92" r="0.9" fill="#F8766D" stroke="none" stroke-width="0.5" fill-opacity="0.6"/>
<circle cx="193.78" cy="473.26" r="0.9" fill="#F8766D" stroke="none" stroke-width="0.5" fill-opacity="0.6"/>
<circle cx="190.82" cy="474.21" r="0.9" fill="#F8766D" stroke="none" stroke-width="0.5" fill-opacity="0.6"/>
<line x1="206.5" y1="445.5" x2="206.5" y2="447" stroke="#00BFC4" stroke-width="0.6"/>
<line x1="206.5" y1="457" x2="206.5" y2="459" stroke="#00BFC4" stroke-width="0.6"/>
<rect x="199.35" y="447" width="14.3" height="10" fill="none" stroke="#00BFC4" stroke-width="0.6"/>
<line x1="199.35" y1="452" x2="213.65" y2="452" stroke="#00BFC4" stroke-width="0.96"/>
<circle cx="201.74" cy="453.59" r="0.9" fill="#00BFC4" stroke="none" stroke-width="0.5" fill-opacity="0.6"/>
<circle cx="211.49" cy="451.57" r="0.9" fill="#00BFC4" stroke="none" stroke-width="0.5" fill-opacity="0.6"/>
<circle cx="208.01" cy="452.61" r="0.9" fill="#00BFC4" stroke="none" stroke-width="0.5" fill-opacity="0.6"/>
<circle cx="204.96" cy="453.39" r="0.9" fill="#00BFC4" stroke="none" stroke-width="0.5" fill-opacity="0.6"/>
<line x1="235.6" y1="450.5" x2="235.6" y2="451.5" stroke="#F8766D" stroke-width="0.6"/>
<line x1="235.6" y1="456.5" x2="235.6" y2="457.5" stroke="#F8766D" stroke-width="0.6"/>
<rect x="228.7" y="451.5" width="13.8" height="5" fill="none" stroke="#F8766D" stroke-width="0.6"/>
<line x1="228.7" y1="455" x2="242.5" y2="455" stroke="#F8766D" stroke-width="0.96"/>
<circle cx="239.52" cy="458.34" r="0.9" fill="#F8766D" stroke="none" stroke-width="0.5" fill-opacity="0.6"/>
<circle cx="231.44" cy="451.78" r="0.9" fill="#F8766D" stroke="none" stroke-width="0.5" fill-opacity="0.6"/>
<circle cx="235.9" cy="452.24" r="0.9" fill="#F8766D" stroke="none" stroke-width="0.5" fill-opacity="0.6"/>
<circle cx="231.9" cy="452.85" r="0.9" fill="#F8766D" stroke="none" stroke-width="0.5" fill-opacity="0.6"/>
<circle cx="232.81" cy="454.77" r="0.9" fill="#F8766D" stroke="none" stroke-width="0.5" fill-opacity="0.6"/>
<circle cx="235.15" cy="456.03" r="0.9" fill="#F8766D" stroke="none" stroke-width="0.5" fill-opacity="0.6"/>
<circle cx="237.7" cy="454.84" r="0.9" fill="#F8766D" stroke="none" stroke-width="0.5" fill-opacity="0.6"/>
<line x1="250.9" y1="408.5" x2="250.9" y2="410.8" stroke="#00BFC4" stroke-width="0.6"/>
<line x1="250.9" y1="414.5" x2="250.9" y2="415.5" stroke="#00BFC4" stroke-width="0.6"/>
<rect x="243.75" y="410.8" width="14.3" height="3.7" fill="none" stroke="#00BFC4" stroke-width="0.6"/>
<line x1="243.75" y1="413.8" x2="258.05" y2="413.8" stroke="#00BFC4" stroke-width="0.96"/>
<circle cx="247.73" cy="411.6" r="0.9" fill="#00BFC4" stroke="none" stroke-width="0.5" fill-opacity="0.6"/>
<circle cx="255.88" cy="408.78" r="0.9" fill="#00BFC4" stroke="none" stroke-width="0.5" fill-opacity="0.6"/>
<circle cx="246.82" cy="413.53" r="0.9" fill="#00BFC4" stroke="none" stroke-width="0.5" fill-opacity="0.6"/>
<circle cx="253.48" cy="415.3" r="0.9" fill="#00BFC4" stroke="none" stroke-width="0.5" fill-opacity="0.6"/>
<circle cx="253.14" cy="414.32" r="0.9" fill="#00BFC4" stroke="none" stroke-width="0.5" fill-opacity="0.6"/>
<circle cx="253.56" cy="415.05" r="0.9" fill="#00BFC4" stroke="none" stroke-width="0.5" fill-opacity="0.6"/>
<circle cx="255.78" cy="408.76" r="0.9" fill="#00BFC4" stroke="none" stroke-width="0.5" fill-opacity="0.6"/>
<text x="198" y="494.5" font-size="7.8" text-anchor="middle" fill="#1a1a1a" stroke="#1a1a1a" stroke-width="0.1">n = 4</text>
<text x="243.8" y="494.5" font-size="7.8" text-anchor="middle" fill="#1a1a1a" stroke="#1a1a1a" stroke-width="0.1">n = 7</text>
<path d="M189.1 436.7V434.9H207.7V436.7" fill="none" stroke="#333" stroke-width="0.6"/>
<text x="174.9" y="433" font-size="7.5" text-anchor="start" fill="#1a1a1a" stroke="#1a1a1a" stroke-width="0.1"><tspan font-style="italic">p</tspan> = 0.0009371</text>
<path d="M234.4 402.2V400.4H252.4V402.2" fill="none" stroke="#333" stroke-width="0.6"/>
<text x="218" y="398.4" font-size="7.3" text-anchor="start" fill="#1a1a1a" stroke="#1a1a1a" stroke-width="0.1"><tspan font-style="italic">p</tspan> = 1.8×10<tspan style="font-size:54%" dy="-0.72em">−11</tspan></text>
<text x="0" y="0" font-size="8.98" text-anchor="end" fill="#222" stroke="#222" stroke-width="0.1" transform="translate(198.7 501) scale(1.08 1) rotate(-45) translate(0 6.47)">3D.3E</text>
<text x="0" y="0" font-size="8.98" text-anchor="end" fill="#222" stroke="#222" stroke-width="0.1" transform="translate(243.7 501) scale(1.08 1) rotate(-45) translate(0 6.47)"><tspan font-style="italic">Th. ponticum</tspan>.3E</text>
<text x="291.8" y="371.1" font-size="9.6" text-anchor="start" fill="#000" stroke="#000" stroke-width="0.1" font-weight="bold">h</text>
<line x1="320" y1="409.25" x2="422" y2="409.25" stroke="#ebebeb" stroke-width="0.6"/>
<line x1="320" y1="434.25" x2="422" y2="434.25" stroke="#ebebeb" stroke-width="0.6"/>
<line x1="320" y1="459.25" x2="422" y2="459.25" stroke="#ebebeb" stroke-width="0.6"/>
<line x1="320" y1="484.25" x2="422" y2="484.25" stroke="#ebebeb" stroke-width="0.6"/>
<line x1="331.8" y1="385.5" x2="331.8" y2="496.3" stroke="#ebebeb" stroke-width="0.6"/>
<line x1="351.4" y1="385.5" x2="351.4" y2="496.3" stroke="#ebebeb" stroke-width="0.6"/>
<line x1="371" y1="385.5" x2="371" y2="496.3" stroke="#ebebeb" stroke-width="0.6"/>
<line x1="390.6" y1="385.5" x2="390.6" y2="496.3" stroke="#ebebeb" stroke-width="0.6"/>
<line x1="410.2" y1="385.5" x2="410.2" y2="496.3" stroke="#ebebeb" stroke-width="0.6"/>
<rect x="320" y="385.5" width="102" height="110.8" fill="none" stroke="#333333" stroke-width="0.7"/>
<line x1="318" y1="409.25" x2="320" y2="409.25" stroke="#333" stroke-width="0.6"/>
<text x="316.5" y="412.15" font-size="8.4" text-anchor="end" fill="#222" stroke="#222" stroke-width="0.1">40</text>
<line x1="318" y1="434.25" x2="320" y2="434.25" stroke="#333" stroke-width="0.6"/>
<text x="316.5" y="437.15" font-size="8.4" text-anchor="end" fill="#222" stroke="#222" stroke-width="0.1">30</text>
<line x1="318" y1="459.25" x2="320" y2="459.25" stroke="#333" stroke-width="0.6"/>
<text x="316.5" y="462.15" font-size="8.4" text-anchor="end" fill="#222" stroke="#222" stroke-width="0.1">20</text>
<line x1="318" y1="484.25" x2="320" y2="484.25" stroke="#333" stroke-width="0.6"/>
<text x="316.5" y="487.15" font-size="8.4" text-anchor="end" fill="#222" stroke="#222" stroke-width="0.1">10</text>
<line x1="331.8" y1="496.3" x2="331.8" y2="498.3" stroke="#333" stroke-width="0.6"/>
<line x1="351.4" y1="496.3" x2="351.4" y2="498.3" stroke="#333" stroke-width="0.6"/>
<line x1="371" y1="496.3" x2="371" y2="498.3" stroke="#333" stroke-width="0.6"/>
<line x1="390.6" y1="496.3" x2="390.6" y2="498.3" stroke="#333" stroke-width="0.6"/>
<line x1="410.2" y1="496.3" x2="410.2" y2="498.3" stroke="#333" stroke-width="0.6"/>
<text x="299.9" y="455.6" font-size="9.4" text-anchor="middle" fill="#000" stroke="#000" stroke-width="0.1" transform="rotate(-90 299.9 455.6)">Percentage of expressed genes(%)</text>
<text x="321" y="393.4" font-size="8.4" text-anchor="start" fill="#1a1a1a" stroke="#1a1a1a" stroke-width="0.1">3D.3E lines</text>
<text x="331.2" y="403.7" font-size="7.6" text-anchor="start" fill="#1a1a1a" stroke="#1a1a1a" stroke-width="0.1">(n = 7)</text>
<circle cx="327.1" cy="484.9" r="0.9" fill="#440154" stroke="none" stroke-width="0.5" fill-opacity="0.6"/>
<circle cx="333.34" cy="486.32" r="0.9" fill="#440154" stroke="none" stroke-width="0.5" fill-opacity="0.6"/>
<circle cx="330.77" cy="487.26" r="0.9" fill="#440154" stroke="none" stroke-width="0.5" fill-opacity="0.6"/>
<circle cx="333.22" cy="488.57" r="0.9" fill="#440154" stroke="none" stroke-width="0.5" fill-opacity="0.6"/>
<circle cx="336.73" cy="489.44" r="0.9" fill="#440154" stroke="none" stroke-width="0.5" fill-opacity="0.6"/>
<circle cx="336.73" cy="486.61" r="0.9" fill="#440154" stroke="none" stroke-width="0.5" fill-opacity="0.6"/>
<circle cx="328.4" cy="486.84" r="0.9" fill="#440154" stroke="none" stroke-width="0.5" fill-opacity="0.6"/>
<line x1="331.8" y1="482" x2="331.8" y2="484.2" stroke="#440154" stroke-width="0.6"/>
<line x1="331.8" y1="489.6" x2="331.8" y2="491.5" stroke="#440154" stroke-width="0.6"/>
<rect x="323.7" y="484.2" width="16.2" height="5.4" fill="none" stroke="#440154" stroke-width="0.6"/>
<line x1="323.7" y1="486.8" x2="339.9" y2="486.8" stroke="#440154" stroke-width="0.96"/>
<circle cx="350.33" cy="480.23" r="0.9" fill="#3B528B" stroke="none" stroke-width="0.5" fill-opacity="0.6"/>
<circle cx="353.24" cy="479.28" r="0.9" fill="#3B528B" stroke="none" stroke-width="0.5" fill-opacity="0.6"/>
<circle cx="348.72" cy="479.87" r="0.9" fill="#3B528B" stroke="none" stroke-width="0.5" fill-opacity="0.6"/>
<circle cx="353.98" cy="479.99" r="0.9" fill="#3B528B" stroke="none" stroke-width="0.5" fill-opacity="0.6"/>
<circle cx="353.02" cy="481.3" r="0.9" fill="#3B528B" stroke="none" stroke-width="0.5" fill-opacity="0.6"/>
<circle cx="347.77" cy="481.99" r="0.9" fill="#3B528B" stroke="none" stroke-width="0.5" fill-opacity="0.6"/>
<circle cx="350.53" cy="476.94" r="0.9" fill="#3B528B" stroke="none" stroke-width="0.5" fill-opacity="0.6"/>
<line x1="351.4" y1="475.5" x2="351.4" y2="476.4" stroke="#3B528B" stroke-width="0.6"/>
<line x1="351.4" y1="482.5" x2="351.4" y2="484" stroke="#3B528B" stroke-width="0.6"/>
<rect x="343.3" y="476.4" width="16.2" height="6.1" fill="none" stroke="#3B528B" stroke-width="0.6"/>
<line x1="343.3" y1="479.2" x2="359.5" y2="479.2" stroke="#3B528B" stroke-width="0.96"/>
<circle cx="369.03" cy="475.68" r="0.9" fill="#21908C" stroke="none" stroke-width="0.5" fill-opacity="0.6"/>
<circle cx="375" cy="475.03" r="0.9" fill="#21908C" stroke="none" stroke-width="0.5" fill-opacity="0.6"/>
<circle cx="367" cy="472" r="0.9" fill="#21908C" stroke="none" stroke-width="0.5" fill-opacity="0.6"/>
<circle cx="371.09" cy="474.38" r="0.9" fill="#21908C" stroke="none" stroke-width="0.5" fill-opacity="0.6"/>
<circle cx="375.45" cy="475.81" r="0.9" fill="#21908C" stroke="none" stroke-width="0.5" fill-opacity="0.6"/>
<circle cx="374.82" cy="472.02" r="0.9" fill="#21908C" stroke="none" stroke-width="0.5" fill-opacity="0.6"/>
<circle cx="373.55" cy="474.24" r="0.9" fill="#21908C" stroke="none" stroke-width="0.5" fill-opacity="0.6"/>
<line x1="371" y1="472" x2="371" y2="472.3" stroke="#21908C" stroke-width="0.6"/>
<line x1="371" y1="478.1" x2="371" y2="481" stroke="#21908C" stroke-width="0.6"/>
<rect x="362.9" y="472.3" width="16.2" height="5.8" fill="none" stroke="#21908C" stroke-width="0.6"/>
<line x1="362.9" y1="474.3" x2="379.1" y2="474.3" stroke="#21908C" stroke-width="0.96"/>
<circle cx="393.77" cy="441.88" r="0.9" fill="#5DC863" stroke="none" stroke-width="0.5" fill-opacity="0.6"/>
<circle cx="388.37" cy="444.16" r="0.9" fill="#5DC863" stroke="none" stroke-width="0.5" fill-opacity="0.6"/>
<circle cx="394.69" cy="442.09" r="0.9" fill="#5DC863" stroke="none" stroke-width="0.5" fill-opacity="0.6"/>
<circle cx="387.47" cy="440.41" r="0.9" fill="#5DC863" stroke="none" stroke-width="0.5" fill-opacity="0.6"/>
<circle cx="390.63" cy="443.49" r="0.9" fill="#5DC863" stroke="none" stroke-width="0.5" fill-opacity="0.6"/>
<circle cx="395.26" cy="442.39" r="0.9" fill="#5DC863" stroke="none" stroke-width="0.5" fill-opacity="0.6"/>
<circle cx="395.04" cy="442.59" r="0.9" fill="#5DC863" stroke="none" stroke-width="0.5" fill-opacity="0.6"/>
<line x1="390.6" y1="440" x2="390.6" y2="441.5" stroke="#5DC863" stroke-width="0.6"/>
<line x1="390.6" y1="451.2" x2="390.6" y2="453.5" stroke="#5DC863" stroke-width="0.6"/>
<rect x="382.5" y="441.5" width="16.2" height="9.7" fill="none" stroke="#5DC863" stroke-width="0.6"/>
<line x1="382.5" y1="446.2" x2="398.7" y2="446.2" stroke="#5DC863" stroke-width="0.96"/>
<circle cx="413.63" cy="393.19" r="0.9" fill="#FDE725" stroke="none" stroke-width="0.5" fill-opacity="0.6"/>
<circle cx="414.19" cy="400.38" r="0.9" fill="#FDE725" stroke="none" stroke-width="0.5" fill-opacity="0.6"/>
<circle cx="414.69" cy="406.75" r="0.9" fill="#FDE725" stroke="none" stroke-width="0.5" fill-opacity="0.6"/>
<circle cx="409.44" cy="397.66" r="0.9" fill="#FDE725" stroke="none" stroke-width="0.5" fill-opacity="0.6"/>
<circle cx="410.32" cy="400.96" r="0.9" fill="#FDE725" stroke="none" stroke-width="0.5" fill-opacity="0.6"/>
<circle cx="406.75" cy="404.82" r="0.9" fill="#FDE725" stroke="none" stroke-width="0.5" fill-opacity="0.6"/>
<circle cx="412.96" cy="400.59" r="0.9" fill="#FDE725" stroke="none" stroke-width="0.5" fill-opacity="0.6"/>
<line x1="410.2" y1="388" x2="410.2" y2="392.9" stroke="#FDE725" stroke-width="0.6"/>
<line x1="410.2" y1="412.4" x2="410.2" y2="415" stroke="#FDE725" stroke-width="0.6"/>
<rect x="402.1" y="392.9" width="16.2" height="19.5" fill="none" stroke="#FDE725" stroke-width="0.6"/>
<line x1="402.1" y1="402" x2="418.3" y2="402" stroke="#FDE725" stroke-width="0.96"/>
<text x="0" y="0" font-size="8.06" text-anchor="end" fill="#222" stroke="#222" stroke-width="0.1" transform="translate(331.7 499.9) scale(1.08 1) rotate(-45) translate(0 5.8)">70–80</text>
<text x="0" y="0" font-size="8.06" text-anchor="end" fill="#222" stroke="#222" stroke-width="0.1" transform="translate(351.3 499.9) scale(1.08 1) rotate(-45) translate(0 5.8)">80–90</text>
<text x="0" y="0" font-size="8.06" text-anchor="end" fill="#222" stroke="#222" stroke-width="0.1" transform="translate(370.9 499.9) scale(1.08 1) rotate(-45) translate(0 5.8)">90–95</text>
<text x="0" y="0" font-size="8.06" text-anchor="end" fill="#222" stroke="#222" stroke-width="0.1" transform="translate(390.5 499.9) scale(1.08 1) rotate(-45) translate(0 5.8)">95–98</text>
<text x="0" y="0" font-size="8.06" text-anchor="end" fill="#222" stroke="#222" stroke-width="0.1" transform="translate(410.1 499.9) scale(1.08 1) rotate(-45) translate(0 5.8)">98–100</text>
<text x="301.3" y="537.8" font-size="9.8" text-anchor="start" fill="#000" stroke="#000" stroke-width="0.1">Identity of <tspan font-style="italic">Te</tspan>.3E to CS gene (%)</text>
<text x="453.5" y="370.9" font-size="9.6" text-anchor="start" fill="#000" stroke="#000" stroke-width="0.1" font-weight="bold">i</text>
<line x1="555.08" y1="385.4" x2="555.08" y2="496.6" stroke="#f0f0f0" stroke-width="0.45"/>
<line x1="575.33" y1="385.4" x2="575.33" y2="496.6" stroke="#f0f0f0" stroke-width="0.45"/>
<line x1="595.58" y1="385.4" x2="595.58" y2="496.6" stroke="#f0f0f0" stroke-width="0.45"/>
<line x1="615.83" y1="385.4" x2="615.83" y2="496.6" stroke="#f0f0f0" stroke-width="0.45"/>
<line x1="565.2" y1="385.4" x2="565.2" y2="496.6" stroke="#ebebeb" stroke-width="0.6"/>
<line x1="585.45" y1="385.4" x2="585.45" y2="496.6" stroke="#ebebeb" stroke-width="0.6"/>
<line x1="605.7" y1="385.4" x2="605.7" y2="496.6" stroke="#ebebeb" stroke-width="0.6"/>
<rect x="551.6" y="385.4" width="67.9" height="111.2" fill="none" stroke="#333333" stroke-width="0.7"/>
<line x1="565.2" y1="496.6" x2="565.2" y2="498.6" stroke="#333" stroke-width="0.6"/>
<line x1="585.45" y1="496.6" x2="585.45" y2="498.6" stroke="#333" stroke-width="0.6"/>
<line x1="605.7" y1="496.6" x2="605.7" y2="498.6" stroke="#333" stroke-width="0.6"/>
<line x1="551.6" y1="396.1" x2="619.5" y2="396.1" stroke="#ebebeb" stroke-width="0.6"/>
<line x1="549.6" y1="396.1" x2="551.6" y2="396.1" stroke="#333" stroke-width="0.6"/>
<line x1="551.6" y1="414" x2="619.5" y2="414" stroke="#ebebeb" stroke-width="0.6"/>
<line x1="549.6" y1="414" x2="551.6" y2="414" stroke="#333" stroke-width="0.6"/>
<line x1="551.6" y1="431.9" x2="619.5" y2="431.9" stroke="#ebebeb" stroke-width="0.6"/>
<line x1="549.6" y1="431.9" x2="551.6" y2="431.9" stroke="#333" stroke-width="0.6"/>
<line x1="551.6" y1="450.1" x2="619.5" y2="450.1" stroke="#ebebeb" stroke-width="0.6"/>
<line x1="549.6" y1="450.1" x2="551.6" y2="450.1" stroke="#333" stroke-width="0.6"/>
<line x1="551.6" y1="468" x2="619.5" y2="468" stroke="#ebebeb" stroke-width="0.6"/>
<line x1="549.6" y1="468" x2="551.6" y2="468" stroke="#333" stroke-width="0.6"/>
<line x1="551.6" y1="485.9" x2="619.5" y2="485.9" stroke="#ebebeb" stroke-width="0.6"/>
<line x1="549.6" y1="485.9" x2="551.6" y2="485.9" stroke="#333" stroke-width="0.6"/>
<text x="565.2" y="506.6" font-size="8.3" text-anchor="middle" fill="#222" stroke="#222" stroke-width="0.1">2.0</text>
<text x="585.45" y="506.6" font-size="8.3" text-anchor="middle" fill="#222" stroke="#222" stroke-width="0.1">2.2</text>
<text x="605.7" y="506.6" font-size="8.3" text-anchor="middle" fill="#222" stroke="#222" stroke-width="0.1">2.4</text>
<text x="548.6" y="399" font-size="8.3" text-anchor="end" fill="#222" stroke="#222" stroke-width="0.1">response to fungus</text>
<text x="548.6" y="416.9" font-size="8.3" text-anchor="end" fill="#222" stroke="#222" stroke-width="0.1">defense response to fungus</text>
<text x="548.6" y="434.8" font-size="8.3" text-anchor="end" fill="#222" stroke="#222" stroke-width="0.1">DNA metabolic process</text>
<text x="548.6" y="453" font-size="8.3" text-anchor="end" fill="#222" stroke="#222" stroke-width="0.1">response to other organism</text>
<text x="548.6" y="470.9" font-size="8.3" text-anchor="end" fill="#222" stroke="#222" stroke-width="0.1">response to stress</text>
<text x="548.6" y="488.8" font-size="8.3" text-anchor="end" fill="#222" stroke="#222" stroke-width="0.1">defense response</text>
<circle cx="605.7" cy="396.4" r="2.5" fill="#F9E547" stroke="none" stroke-width="0.5"/>
<circle cx="605.7" cy="414.1" r="2.5" fill="#F9E547" stroke="none" stroke-width="0.5"/>
<circle cx="590.2" cy="432" r="3.3" fill="#6E6F73" stroke="none" stroke-width="0.5"/>
<circle cx="575.4" cy="450.1" r="2.8" fill="#A39D80" stroke="none" stroke-width="0.5"/>
<circle cx="569.3" cy="468.1" r="4.4" fill="#0A2357" stroke="none" stroke-width="0.5"/>
<circle cx="563" cy="486.2" r="4" fill="#0B3578" stroke="none" stroke-width="0.5"/>
<text x="585.5" y="519.2" font-size="8.2" text-anchor="middle" fill="#000" stroke="#000" stroke-width="0.1">−log10(<tspan font-style="italic">p</tspan>-adjust)</text>
<text x="583" y="538.2" font-size="9.9" text-anchor="middle" fill="#000" stroke="#000" stroke-width="0.1">DEGs of 3D.3E vs. <tspan font-style="italic">Th. ponticum</tspan>.3E</text>
<text x="625" y="390.5" font-size="8.2" text-anchor="start" fill="#000" stroke="#000" stroke-width="0.1">Gene number</text>
<circle cx="629.8" cy="399" r="3.3" fill="#000" stroke="none" stroke-width="0.5"/>
<text x="637" y="401.9" font-size="8.2" text-anchor="start" fill="#1a1a1a" stroke="#1a1a1a" stroke-width="0.1">10</text>
<circle cx="629.8" cy="408.6" r="3.8" fill="#000" stroke="none" stroke-width="0.5"/>
<text x="637" y="411.5" font-size="8.2" text-anchor="start" fill="#1a1a1a" stroke="#1a1a1a" stroke-width="0.1">15</text>
<circle cx="629.8" cy="418.6" r="4.3" fill="#000" stroke="none" stroke-width="0.5"/>
<text x="637" y="421.5" font-size="8.2" text-anchor="start" fill="#1a1a1a" stroke="#1a1a1a" stroke-width="0.1">20</text>
<circle cx="629.8" cy="429.7" r="5" fill="#000" stroke="none" stroke-width="0.5"/>
<text x="637" y="432.6" font-size="8.2" text-anchor="start" fill="#1a1a1a" stroke="#1a1a1a" stroke-width="0.1">25</text>
<text x="625" y="452" font-size="8.2" text-anchor="start" fill="#000" stroke="#000" stroke-width="0.1">Fold Enrichment</text>
<defs><linearGradient id="civ2" x1="0" y1="1" x2="0" y2="0"><stop offset="0.0" stop-color="#00224e"/><stop offset="0.1" stop-color="#083370"/><stop offset="0.2" stop-color="#35456c"/><stop offset="0.3" stop-color="#4f576c"/><stop offset="0.4" stop-color="#666970"/><stop offset="0.5" stop-color="#7d7c78"/><stop offset="0.6" stop-color="#948e77"/><stop offset="0.7" stop-color="#aea371"/><stop offset="0.8" stop-color="#c8b866"/><stop offset="0.9" stop-color="#e5cf52"/><stop offset="1.0" stop-color="#fee838"/></linearGradient></defs>
<rect x="625" y="455" width="9.6" height="45.2" fill="url(#civ2)" stroke="none" stroke-width="0"/>
<line x1="625" y1="465.1" x2="627" y2="465.1" stroke="#fff" stroke-width="0.5"/>
<line x1="632.6" y1="465.1" x2="634.6" y2="465.1" stroke="#fff" stroke-width="0.5"/>
<text x="637" y="468" font-size="8.2" text-anchor="start" fill="#1a1a1a" stroke="#1a1a1a" stroke-width="0.1">3.5</text>
<line x1="625" y1="474.3" x2="627" y2="474.3" stroke="#fff" stroke-width="0.5"/>
<line x1="632.6" y1="474.3" x2="634.6" y2="474.3" stroke="#fff" stroke-width="0.5"/>
<text x="637" y="477.2" font-size="8.2" text-anchor="start" fill="#1a1a1a" stroke="#1a1a1a" stroke-width="0.1">3.0</text>
<line x1="625" y1="483.9" x2="627" y2="483.9" stroke="#fff" stroke-width="0.5"/>
<line x1="632.6" y1="483.9" x2="634.6" y2="483.9" stroke="#fff" stroke-width="0.5"/>
<text x="637" y="486.8" font-size="8.2" text-anchor="start" fill="#1a1a1a" stroke="#1a1a1a" stroke-width="0.1">2.5</text>
<line x1="625" y1="493.8" x2="627" y2="493.8" stroke="#fff" stroke-width="0.5"/>
<line x1="632.6" y1="493.8" x2="634.6" y2="493.8" stroke="#fff" stroke-width="0.5"/>
<text x="637" y="496.7" font-size="8.2" text-anchor="start" fill="#1a1a1a" stroke="#1a1a1a" stroke-width="0.1">2.0</text>
</svg></body></html>
